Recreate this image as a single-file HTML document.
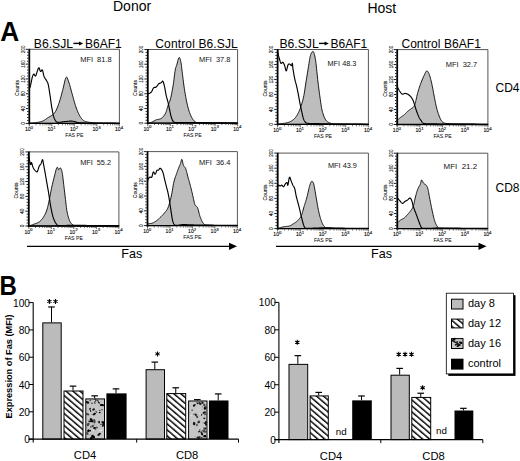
<!DOCTYPE html><html><head><meta charset="utf-8"><style>html,body{margin:0;padding:0;background:#fff;}svg{display:block;font-family:"Liberation Sans", sans-serif;}</style></head><body><svg width="520" height="461" viewBox="0 0 520 461" font-family='"Liberation Sans", sans-serif'>
<rect width="520" height="461" fill="#fff"/>
<text x="113.00" y="11.20" font-size="14" text-anchor="start" font-weight="normal" fill="#000" >Donor</text>
<text x="367.40" y="13.10" font-size="14" text-anchor="start" font-weight="normal" fill="#000" >Host</text>
<text transform="translate(0.3,41.0) scale(0.93,1)" font-size="28.3" font-weight="bold">A</text>
<text transform="translate(-0.6,295.2) scale(0.85,1)" font-size="28.3" font-weight="bold">B</text>
<text x="33.80" y="47.90" font-size="12.2">B6.SJL</text>
<path d="M73.40,43.40H79.90" stroke="#000" stroke-width="1.4"/>
<path d="M79.00,41.40L83.20,43.40L79.00,45.40Z" fill="#000"/>
<text x="85.00" y="47.90" font-size="12">B6AF1</text>
<text x="155.3" y="47.9" font-size="12" textLength="82.5" lengthAdjust="spacing">Control B6.SJL</text>
<text x="279.40" y="47.90" font-size="12.2">B6.SJL</text>
<path d="M319.00,43.40H325.50" stroke="#000" stroke-width="1.4"/>
<path d="M324.60,41.40L328.80,43.40L324.60,45.40Z" fill="#000"/>
<text x="330.60" y="47.90" font-size="12">B6AF1</text>
<text x="401.4" y="47.9" font-size="12" textLength="79.5" lengthAdjust="spacing">Control B6AF1</text>
<text x="495.50" y="92.00" font-size="12" text-anchor="start" font-weight="normal" fill="#000" >CD4</text>
<text x="495.50" y="192.00" font-size="12" text-anchor="start" font-weight="normal" fill="#000" >CD8</text>
<polygon points="29.30,123.40 29.30,123.21 29.42,123.20 29.55,123.19 29.70,123.18 29.89,123.17 30.13,123.15 30.44,123.12 30.83,123.08 31.33,123.03 31.96,122.97 32.72,122.90 33.58,122.82 34.51,122.74 35.46,122.65 36.40,122.54 37.28,122.42 38.08,122.29 38.81,122.15 39.50,122.01 40.15,121.87 40.79,121.71 41.41,121.53 42.02,121.32 42.64,121.09 43.27,120.81 43.90,120.47 44.54,120.09 45.17,119.66 45.80,119.21 46.42,118.75 47.03,118.30 47.64,117.87 48.22,117.47 48.79,117.12 49.36,116.81 49.91,116.51 50.46,116.22 50.99,115.93 51.51,115.61 52.01,115.27 52.50,114.88 52.97,114.47 53.41,114.07 53.83,113.65 54.25,113.21 54.65,112.72 55.06,112.17 55.46,111.54 55.88,110.80 56.30,109.97 56.72,109.06 57.15,108.08 57.57,107.03 57.99,105.92 58.41,104.75 58.84,103.54 59.26,102.28 59.68,100.97 60.10,99.58 60.53,98.13 60.95,96.63 61.37,95.10 61.79,93.55 62.21,91.98 62.64,90.43 63.06,88.74 63.50,86.85 63.93,84.88 64.37,82.92 64.80,81.09 65.22,79.50 65.63,78.25 66.02,77.46 66.38,77.13 66.72,77.17 67.05,77.52 67.37,78.13 67.69,78.93 68.01,79.86 68.35,80.87 68.72,81.90 69.11,83.03 69.52,84.35 69.94,85.81 70.37,87.37 70.80,88.99 71.24,90.62 71.67,92.23 72.10,93.76 72.52,95.26 72.94,96.80 73.36,98.35 73.79,99.90 74.21,101.41 74.63,102.89 75.05,104.29 75.48,105.62 75.90,106.86 76.32,108.06 76.74,109.20 77.17,110.29 77.59,111.33 78.01,112.32 78.43,113.25 78.86,114.14 79.28,114.97 79.70,115.74 80.12,116.46 80.54,117.12 80.97,117.74 81.39,118.31 81.81,118.84 82.23,119.32 82.63,119.75 83.00,120.11 83.35,120.42 83.71,120.69 84.10,120.93 84.53,121.14 85.03,121.34 85.61,121.55 86.28,121.74 87.01,121.92 87.80,122.07 88.64,122.21 89.52,122.33 90.44,122.45 91.39,122.55 92.37,122.66 93.33,122.76 94.25,122.85 95.19,122.92 96.17,122.99 97.24,123.06 98.44,123.11 99.81,123.17 101.38,123.21 103.32,123.26 105.67,123.29 108.27,123.32 110.95,123.34 113.57,123.36 115.95,123.38 117.95,123.39 119.40,123.40 119.40,123.40" fill="#bdbdbd" stroke="#000" stroke-width="0.9" stroke-linejoin="round"/>
<polyline points="29.30,88.20 29.38,88.07 29.49,87.95 29.61,87.81 29.75,87.62 29.90,87.37 30.07,87.03 30.25,86.57 30.43,85.98 30.62,85.18 30.83,84.17 31.06,83.02 31.30,81.79 31.54,80.55 31.78,79.37 32.01,78.32 32.23,77.46 32.43,76.76 32.63,76.14 32.83,75.60 33.02,75.14 33.21,74.77 33.40,74.47 33.60,74.26 33.80,74.12 34.02,74.15 34.24,74.39 34.46,74.75 34.69,75.17 34.92,75.57 35.15,75.89 35.38,76.05 35.61,75.98 35.83,75.65 36.06,75.12 36.29,74.45 36.52,73.68 36.75,72.88 36.97,72.09 37.19,71.38 37.41,70.79 37.62,70.27 37.82,69.74 38.02,69.22 38.21,68.75 38.40,68.35 38.60,68.04 38.79,67.86 38.99,67.83 39.18,68.00 39.37,68.40 39.57,68.95 39.76,69.58 39.95,70.23 40.15,70.81 40.35,71.27 40.56,71.53 40.78,71.54 41.00,71.33 41.22,71.00 41.45,70.60 41.68,70.23 41.91,69.97 42.14,69.88 42.36,70.05 42.59,70.51 42.80,71.20 43.01,72.07 43.22,73.04 43.44,74.05 43.67,75.04 43.91,75.95 44.17,76.72 44.45,77.35 44.76,77.93 45.09,78.45 45.42,78.94 45.75,79.41 46.07,79.86 46.37,80.32 46.64,80.79 46.88,81.23 47.10,81.58 47.29,81.90 47.47,82.23 47.65,82.61 47.83,83.08 48.02,83.70 48.22,84.50 48.44,85.50 48.66,86.68 48.89,87.99 49.12,89.41 49.35,90.88 49.58,92.36 49.81,93.83 50.02,95.24 50.23,96.63 50.43,98.04 50.62,99.46 50.81,100.89 51.00,102.31 51.20,103.70 51.39,105.05 51.60,106.36 51.81,107.64 52.03,108.92 52.26,110.18 52.49,111.41 52.72,112.58 52.95,113.69 53.17,114.70 53.40,115.62 53.62,116.42 53.84,117.12 54.05,117.74 54.26,118.28 54.48,118.77 54.71,119.22 54.95,119.65 55.20,120.07 55.45,120.47 55.65,120.85 55.86,121.19 56.08,121.50 56.34,121.77 56.68,121.99 57.12,122.17 57.68,122.29 58.40,122.34 59.25,122.30 60.21,122.21 61.24,122.08 62.31,121.93 63.37,121.78 64.39,121.64 65.34,121.55 66.23,121.47 67.09,121.39 67.94,121.30 68.78,121.22 69.60,121.16 70.43,121.13 71.26,121.13 72.10,121.18 72.93,121.28 73.73,121.44 74.53,121.65 75.34,121.87 76.16,122.10 77.01,122.32 77.90,122.51 78.86,122.66 79.87,122.76 80.95,122.84 82.07,122.90 83.22,122.94 84.39,122.97 85.56,122.99 86.72,123.01 87.87,123.03 88.90,123.05 89.80,123.05 90.65,123.05 91.53,123.04 92.51,123.03 93.67,123.03 95.10,123.02 96.88,123.03 99.20,123.05 102.08,123.07 105.32,123.09 108.70,123.12 112.01,123.15 115.04,123.18 117.57,123.20 119.40,123.21" fill="none" stroke="#000" stroke-width="1.15" stroke-linejoin="round"/>
<path d="M29.30,49.30 H119.40 V123.40" fill="none" stroke="#555" stroke-width="1"/>
<line x1="29.30" y1="48.80" x2="29.30" y2="124.40" stroke="#000" stroke-width="1.8"/>
<line x1="28.30" y1="123.40" x2="119.90" y2="123.40" stroke="#000" stroke-width="1.3"/>
<path d="M25.90,123.40h2.50M27.10,120.44h1.30M27.10,117.47h1.30M27.10,114.51h1.30M27.10,111.54h1.30M25.90,108.58h2.50M27.10,105.62h1.30M27.10,102.65h1.30M27.10,99.69h1.30M27.10,96.72h1.30M25.90,93.76h2.50M27.10,90.80h1.30M27.10,87.83h1.30M27.10,84.87h1.30M27.10,81.90h1.30M25.90,78.94h2.50M27.10,75.98h1.30M27.10,73.01h1.30M27.10,70.05h1.30M27.10,67.08h1.30M25.90,64.12h2.50M27.10,61.16h1.30M27.10,58.19h1.30M27.10,55.23h1.30M27.10,52.26h1.30M25.90,49.30h2.50" stroke="#000" stroke-width="0.9" fill="none"/>
<path d="M29.30,124.20v2.20M36.08,124.20v1.10M40.05,124.20v1.10M42.86,124.20v1.10M45.04,124.20v1.10M46.83,124.20v1.10M48.34,124.20v1.10M49.64,124.20v1.10M50.79,124.20v1.10M51.83,124.20v2.20M58.61,124.20v1.10M62.57,124.20v1.10M65.39,124.20v1.10M67.57,124.20v1.10M69.35,124.20v1.10M70.86,124.20v1.10M72.17,124.20v1.10M73.32,124.20v1.10M74.35,124.20v2.20M81.13,124.20v1.10M85.10,124.20v1.10M87.91,124.20v1.10M90.09,124.20v1.10M91.88,124.20v1.10M93.39,124.20v1.10M94.69,124.20v1.10M95.84,124.20v1.10M96.88,124.20v2.20M103.66,124.20v1.10M107.62,124.20v1.10M110.44,124.20v1.10M112.62,124.20v1.10M114.40,124.20v1.10M115.91,124.20v1.10M117.22,124.20v1.10M118.37,124.20v1.10M119.40,124.20v2.2" stroke="#000" stroke-width="0.6" fill="none"/>
<text transform="translate(24.70,123.40) rotate(-90)" font-size="5.8" text-anchor="middle" fill="#000" stroke="#000" stroke-width="0.1" textLength="2.7" lengthAdjust="spacingAndGlyphs">0</text>
<text transform="translate(24.70,108.58) rotate(-90)" font-size="5.8" text-anchor="middle" fill="#000" stroke="#000" stroke-width="0.1" textLength="5.1" lengthAdjust="spacingAndGlyphs">40</text>
<text transform="translate(24.70,93.76) rotate(-90)" font-size="5.8" text-anchor="middle" fill="#000" stroke="#000" stroke-width="0.1" textLength="5.1" lengthAdjust="spacingAndGlyphs">80</text>
<text transform="translate(24.70,78.94) rotate(-90)" font-size="5.8" text-anchor="middle" fill="#000" stroke="#000" stroke-width="0.1" textLength="7.5" lengthAdjust="spacingAndGlyphs">120</text>
<text transform="translate(24.70,64.12) rotate(-90)" font-size="5.8" text-anchor="middle" fill="#000" stroke="#000" stroke-width="0.1" textLength="7.5" lengthAdjust="spacingAndGlyphs">160</text>
<text transform="translate(24.70,49.30) rotate(-90)" font-size="5.8" text-anchor="middle" fill="#000" stroke="#000" stroke-width="0.1" textLength="7.5" lengthAdjust="spacingAndGlyphs">200</text>
<text transform="translate(18.70,87.95) rotate(-90)" font-size="5.4" text-anchor="middle" fill="#000" stroke="#000" stroke-width="0.1" textLength="16" lengthAdjust="spacingAndGlyphs">Counts</text>
<text x="29.00" y="131.00" font-size="5.1" text-anchor="middle" fill="#000" stroke="#000" stroke-width="0.1">10<tspan font-size="4.4" dy="-2.5">0</tspan></text>
<text x="51.53" y="131.00" font-size="5.1" text-anchor="middle" fill="#000" stroke="#000" stroke-width="0.1">10<tspan font-size="4.4" dy="-2.5">1</tspan></text>
<text x="74.05" y="131.00" font-size="5.1" text-anchor="middle" fill="#000" stroke="#000" stroke-width="0.1">10<tspan font-size="4.4" dy="-2.5">2</tspan></text>
<text x="96.58" y="131.00" font-size="5.1" text-anchor="middle" fill="#000" stroke="#000" stroke-width="0.1">10<tspan font-size="4.4" dy="-2.5">3</tspan></text>
<text x="119.10" y="131.00" font-size="5.1" text-anchor="middle" fill="#000" stroke="#000" stroke-width="0.1">10<tspan font-size="4.4" dy="-2.5">4</tspan></text>
<text x="74.35" y="137.20" font-size="5.2" text-anchor="middle" fill="#000">FAS PE</text>
<text x="80.20" y="61.60" font-size="6.8" fill="#111" textLength="31.40" lengthAdjust="spacingAndGlyphs">MFI&#160;&#160;81.8</text>
<polygon points="147.80,123.20 147.80,123.02 148.05,122.99 148.37,122.96 148.75,122.94 149.18,122.90 149.64,122.84 150.14,122.76 150.65,122.63 151.17,122.46 151.71,122.23 152.29,121.93 152.89,121.60 153.52,121.23 154.17,120.86 154.82,120.50 155.47,120.17 156.11,119.88 156.75,119.67 157.40,119.52 158.07,119.41 158.73,119.31 159.39,119.18 160.04,119.01 160.67,118.76 161.27,118.41 161.86,117.96 162.44,117.44 163.01,116.86 163.57,116.22 164.11,115.54 164.62,114.81 165.09,114.04 165.54,113.25 165.93,112.40 166.28,111.47 166.59,110.49 166.88,109.47 167.16,108.45 167.43,107.43 167.71,106.44 168.00,105.51 168.31,104.68 168.62,103.94 168.92,103.25 169.23,102.56 169.53,101.83 169.84,101.00 170.16,100.04 170.47,98.88 170.81,97.52 171.15,96.00 171.50,94.34 171.85,92.59 172.20,90.77 172.54,88.92 172.86,87.07 173.17,85.24 173.46,83.36 173.73,81.34 174.00,79.25 174.25,77.16 174.49,75.14 174.73,73.25 174.96,71.56 175.19,70.14 175.40,69.03 175.60,68.20 175.78,67.57 175.96,67.07 176.14,66.64 176.33,66.19 176.53,65.66 176.76,64.98 177.01,64.08 177.28,63.02 177.57,61.87 177.87,60.72 178.17,59.63 178.46,58.70 178.74,58.00 179.01,57.61 179.25,57.51 179.49,57.64 179.72,57.95 179.95,58.44 180.16,59.07 180.38,59.84 180.59,60.71 180.80,61.66 181.00,62.73 181.19,63.94 181.38,65.29 181.56,66.75 181.74,68.31 181.94,69.96 182.15,71.68 182.37,73.45 182.62,75.34 182.87,77.37 183.14,79.51 183.41,81.72 183.70,83.96 183.99,86.17 184.30,88.34 184.62,90.40 184.95,92.41 185.29,94.42 185.64,96.41 186.01,98.37 186.38,100.28 186.76,102.11 187.15,103.87 187.54,105.51 187.93,107.06 188.33,108.53 188.73,109.93 189.14,111.25 189.56,112.50 189.99,113.67 190.44,114.78 190.90,115.83 191.38,116.81 191.85,117.73 192.33,118.58 192.83,119.35 193.35,120.06 193.91,120.69 194.51,121.25 195.17,121.73 195.70,122.10 196.00,122.36 196.24,122.52 196.57,122.62 197.15,122.68 198.13,122.72 199.66,122.76 201.90,122.83 205.22,122.92 209.63,122.98 214.74,123.04 220.17,123.08 225.56,123.12 230.51,123.15 234.65,123.18 237.60,123.20 237.60,123.20" fill="#bdbdbd" stroke="#000" stroke-width="0.9" stroke-linejoin="round"/>
<polyline points="147.80,93.72 147.84,93.73 147.87,93.75 147.91,93.78 147.97,93.81 148.04,93.83 148.15,93.82 148.29,93.79 148.47,93.72 148.72,93.63 149.01,93.52 149.35,93.40 149.71,93.26 150.08,93.08 150.46,92.86 150.83,92.58 151.17,92.25 151.49,91.81 151.80,91.26 152.11,90.64 152.42,89.99 152.72,89.34 153.02,88.74 153.33,88.22 153.64,87.82 153.94,87.57 154.25,87.44 154.55,87.39 154.86,87.39 155.16,87.39 155.47,87.37 155.79,87.28 156.11,87.09 156.43,86.78 156.77,86.39 157.11,85.94 157.45,85.45 157.80,84.97 158.14,84.50 158.47,84.10 158.80,83.77 159.13,83.53 159.45,83.35 159.78,83.21 160.11,83.10 160.42,83.01 160.72,82.92 161.01,82.81 161.27,82.66 161.51,82.45 161.72,82.15 161.92,81.82 162.10,81.49 162.28,81.22 162.45,81.05 162.64,81.03 162.84,81.19 163.06,81.56 163.28,82.09 163.51,82.75 163.74,83.52 163.97,84.36 164.20,85.26 164.42,86.18 164.64,87.09 164.84,88.04 165.04,89.07 165.23,90.16 165.42,91.28 165.61,92.41 165.81,93.51 166.00,94.57 166.21,95.56 166.42,96.47 166.64,97.31 166.87,98.10 167.09,98.88 167.32,99.65 167.55,100.45 167.78,101.29 168.00,102.20 168.23,103.18 168.46,104.23 168.69,105.32 168.92,106.43 169.14,107.55 169.37,108.64 169.59,109.69 169.80,110.67 170.00,111.60 170.18,112.50 170.36,113.37 170.53,114.22 170.71,115.03 170.91,115.82 171.12,116.58 171.37,117.30 171.62,118.02 171.86,118.73 172.09,119.43 172.35,120.09 172.66,120.70 173.04,121.25 173.50,121.72 174.07,122.09 174.74,122.35 175.50,122.51 176.33,122.57 177.24,122.58 178.21,122.55 179.24,122.50 180.33,122.46 181.48,122.46 182.62,122.48 183.75,122.48 184.91,122.47 186.15,122.46 187.50,122.45 189.02,122.45 190.73,122.45 192.70,122.46 194.97,122.49 197.52,122.53 200.30,122.58 203.22,122.64 206.24,122.69 209.27,122.74 212.27,122.79 215.15,122.83 218.11,122.86 221.29,122.89 224.56,122.92 227.78,122.95 230.83,122.97 233.57,122.99 235.87,123.00 237.60,123.02" fill="none" stroke="#000" stroke-width="1.15" stroke-linejoin="round"/>
<path d="M147.80,49.50 H237.60 V123.20" fill="none" stroke="#555" stroke-width="1"/>
<line x1="147.80" y1="49.00" x2="147.80" y2="124.20" stroke="#000" stroke-width="1.8"/>
<line x1="146.80" y1="123.20" x2="238.10" y2="123.20" stroke="#000" stroke-width="1.3"/>
<path d="M144.40,123.20h2.50M145.60,120.25h1.30M145.60,117.30h1.30M145.60,114.36h1.30M145.60,111.41h1.30M144.40,108.46h2.50M145.60,105.51h1.30M145.60,102.56h1.30M145.60,99.62h1.30M145.60,96.67h1.30M144.40,93.72h2.50M145.60,90.77h1.30M145.60,87.82h1.30M145.60,84.88h1.30M145.60,81.93h1.30M144.40,78.98h2.50M145.60,76.03h1.30M145.60,73.08h1.30M145.60,70.14h1.30M145.60,67.19h1.30M144.40,64.24h2.50M145.60,61.29h1.30M145.60,58.34h1.30M145.60,55.40h1.30M145.60,52.45h1.30M144.40,49.50h2.50" stroke="#000" stroke-width="0.9" fill="none"/>
<path d="M147.80,124.00v2.20M154.56,124.00v1.10M158.51,124.00v1.10M161.32,124.00v1.10M163.49,124.00v1.10M165.27,124.00v1.10M166.77,124.00v1.10M168.07,124.00v1.10M169.22,124.00v1.10M170.25,124.00v2.20M177.01,124.00v1.10M180.96,124.00v1.10M183.77,124.00v1.10M185.94,124.00v1.10M187.72,124.00v1.10M189.22,124.00v1.10M190.52,124.00v1.10M191.67,124.00v1.10M192.70,124.00v2.20M199.46,124.00v1.10M203.41,124.00v1.10M206.22,124.00v1.10M208.39,124.00v1.10M210.17,124.00v1.10M211.67,124.00v1.10M212.97,124.00v1.10M214.12,124.00v1.10M215.15,124.00v2.20M221.91,124.00v1.10M225.86,124.00v1.10M228.67,124.00v1.10M230.84,124.00v1.10M232.62,124.00v1.10M234.12,124.00v1.10M235.42,124.00v1.10M236.57,124.00v1.10M237.60,124.00v2.2" stroke="#000" stroke-width="0.6" fill="none"/>
<text transform="translate(143.20,123.20) rotate(-90)" font-size="5.8" text-anchor="middle" fill="#000" stroke="#000" stroke-width="0.1" textLength="2.7" lengthAdjust="spacingAndGlyphs">0</text>
<text transform="translate(143.20,108.46) rotate(-90)" font-size="5.8" text-anchor="middle" fill="#000" stroke="#000" stroke-width="0.1" textLength="5.1" lengthAdjust="spacingAndGlyphs">40</text>
<text transform="translate(143.20,93.72) rotate(-90)" font-size="5.8" text-anchor="middle" fill="#000" stroke="#000" stroke-width="0.1" textLength="5.1" lengthAdjust="spacingAndGlyphs">80</text>
<text transform="translate(143.20,78.98) rotate(-90)" font-size="5.8" text-anchor="middle" fill="#000" stroke="#000" stroke-width="0.1" textLength="7.5" lengthAdjust="spacingAndGlyphs">120</text>
<text transform="translate(143.20,64.24) rotate(-90)" font-size="5.8" text-anchor="middle" fill="#000" stroke="#000" stroke-width="0.1" textLength="7.5" lengthAdjust="spacingAndGlyphs">160</text>
<text transform="translate(143.20,49.50) rotate(-90)" font-size="5.8" text-anchor="middle" fill="#000" stroke="#000" stroke-width="0.1" textLength="7.5" lengthAdjust="spacingAndGlyphs">200</text>
<text transform="translate(137.20,87.95) rotate(-90)" font-size="5.4" text-anchor="middle" fill="#000" stroke="#000" stroke-width="0.1" textLength="16" lengthAdjust="spacingAndGlyphs">Counts</text>
<text x="147.50" y="130.80" font-size="5.1" text-anchor="middle" fill="#000" stroke="#000" stroke-width="0.1">10<tspan font-size="4.4" dy="-2.5">0</tspan></text>
<text x="169.95" y="130.80" font-size="5.1" text-anchor="middle" fill="#000" stroke="#000" stroke-width="0.1">10<tspan font-size="4.4" dy="-2.5">1</tspan></text>
<text x="192.40" y="130.80" font-size="5.1" text-anchor="middle" fill="#000" stroke="#000" stroke-width="0.1">10<tspan font-size="4.4" dy="-2.5">2</tspan></text>
<text x="214.85" y="130.80" font-size="5.1" text-anchor="middle" fill="#000" stroke="#000" stroke-width="0.1">10<tspan font-size="4.4" dy="-2.5">3</tspan></text>
<text x="237.30" y="130.80" font-size="5.1" text-anchor="middle" fill="#000" stroke="#000" stroke-width="0.1">10<tspan font-size="4.4" dy="-2.5">4</tspan></text>
<text x="192.70" y="137.00" font-size="5.2" text-anchor="middle" fill="#000">FAS PE</text>
<text x="199.00" y="62.10" font-size="6.8" fill="#111" textLength="31.40" lengthAdjust="spacingAndGlyphs">MFI&#160;&#160;37.8</text>
<polygon points="277.60,124.40 277.60,124.03 277.84,124.00 278.13,123.98 278.47,123.95 278.86,123.91 279.31,123.86 279.82,123.81 280.38,123.74 281.00,123.65 281.72,123.56 282.56,123.46 283.47,123.35 284.42,123.23 285.39,123.09 286.34,122.93 287.24,122.74 288.04,122.53 288.77,122.28 289.47,122.00 290.13,121.70 290.77,121.38 291.37,121.04 291.95,120.68 292.50,120.30 293.04,119.91 293.54,119.51 294.00,119.12 294.43,118.72 294.84,118.29 295.23,117.83 295.63,117.33 296.03,116.78 296.44,116.16 296.87,115.50 297.29,114.81 297.71,114.08 298.13,113.31 298.55,112.46 298.98,111.54 299.41,110.53 299.85,109.42 300.30,108.20 300.76,106.87 301.24,105.46 301.72,103.97 302.19,102.41 302.64,100.79 303.08,99.13 303.48,97.44 303.84,95.68 304.18,93.83 304.50,91.92 304.80,89.97 305.09,87.99 305.38,86.00 305.67,84.02 305.98,82.08 306.29,80.13 306.62,78.13 306.94,76.11 307.27,74.10 307.59,72.13 307.90,70.22 308.19,68.41 308.47,66.73 308.73,65.14 308.97,63.62 309.19,62.17 309.41,60.81 309.62,59.52 309.83,58.33 310.05,57.23 310.29,56.24 310.54,55.35 310.79,54.56 311.06,53.87 311.32,53.27 311.59,52.76 311.85,52.34 312.10,52.00 312.33,51.75 312.55,51.57 312.75,51.46 312.95,51.43 313.14,51.49 313.33,51.65 313.52,51.93 313.71,52.33 313.92,52.87 314.13,53.51 314.35,54.22 314.56,55.03 314.79,55.96 315.01,57.05 315.24,58.31 315.49,59.78 315.74,61.48 316.00,63.51 316.27,65.87 316.55,68.48 316.84,71.24 317.13,74.08 317.43,76.89 317.72,79.59 318.01,82.08 318.29,84.43 318.58,86.75 318.87,89.02 319.16,91.23 319.44,93.38 319.72,95.45 320.00,97.43 320.28,99.31 320.53,101.08 320.77,102.75 321.00,104.33 321.23,105.84 321.46,107.28 321.72,108.66 322.00,109.99 322.32,111.29 322.67,112.57 323.04,113.81 323.43,115.00 323.84,116.14 324.27,117.21 324.73,118.20 325.21,119.10 325.72,119.91 326.25,120.60 326.79,121.18 327.34,121.67 327.92,122.08 328.54,122.43 329.21,122.74 329.93,123.02 330.72,123.28 331.44,123.50 332.04,123.66 332.61,123.77 333.27,123.84 334.12,123.89 335.27,123.93 336.83,123.97 338.89,124.03 341.76,124.09 345.46,124.15 349.69,124.21 354.16,124.26 358.56,124.30 362.60,124.34 365.98,124.37 368.40,124.40 368.40,124.40" fill="#bdbdbd" stroke="#000" stroke-width="0.9" stroke-linejoin="round"/>
<polyline points="277.60,49.50 277.63,49.81 277.66,50.21 277.70,50.69 277.74,51.23 277.80,51.81 277.87,52.41 277.95,53.02 278.05,53.62 278.18,54.23 278.33,54.87 278.49,55.54 278.66,56.22 278.85,56.90 279.04,57.58 279.23,58.24 279.42,58.86 279.60,59.50 279.79,60.17 279.99,60.85 280.18,61.51 280.38,62.12 280.59,62.65 280.79,63.07 281.00,63.36 281.22,63.45 281.44,63.37 281.67,63.15 281.90,62.86 282.13,62.57 282.36,62.33 282.59,62.20 282.82,62.23 283.05,62.43 283.28,62.72 283.51,63.09 283.74,63.52 283.97,64.00 284.20,64.52 284.42,65.06 284.64,65.60 284.84,66.25 285.04,67.05 285.24,67.93 285.43,68.81 285.62,69.62 285.82,70.28 286.02,70.72 286.23,70.85 286.44,70.60 286.67,70.02 286.90,69.19 287.13,68.22 287.37,67.21 287.60,66.25 287.82,65.43 288.04,64.85 288.25,64.49 288.45,64.25 288.64,64.09 288.84,64.01 289.03,63.99 289.22,64.01 289.42,64.06 289.63,64.11 289.85,64.21 290.09,64.41 290.34,64.67 290.58,64.95 290.82,65.22 291.05,65.44 291.26,65.58 291.45,65.60 291.61,65.45 291.74,65.11 291.86,64.67 291.97,64.20 292.07,63.76 292.17,63.43 292.26,63.27 292.36,63.36 292.44,63.68 292.51,64.18 292.58,64.82 292.64,65.58 292.71,66.44 292.79,67.37 292.90,68.35 293.04,69.35 293.21,70.44 293.42,71.68 293.64,73.02 293.89,74.40 294.14,75.79 294.39,77.13 294.63,78.37 294.85,79.46 295.06,80.39 295.26,81.19 295.45,81.89 295.65,82.55 295.84,83.19 296.03,83.87 296.23,84.61 296.44,85.45 296.66,86.40 296.88,87.42 297.12,88.49 297.35,89.59 297.58,90.72 297.81,91.85 298.04,92.97 298.26,94.07 298.46,95.14 298.66,96.22 298.86,97.30 299.05,98.37 299.24,99.45 299.44,100.53 299.64,101.60 299.85,102.68 300.06,103.77 300.29,104.88 300.52,105.99 300.75,107.10 300.99,108.20 301.22,109.27 301.44,110.31 301.66,111.29 301.87,112.25 302.07,113.18 302.26,114.09 302.46,114.97 302.65,115.81 302.84,116.60 303.04,117.35 303.25,118.03 303.46,118.66 303.67,119.23 303.89,119.76 304.10,120.23 304.33,120.67 304.56,121.07 304.81,121.44 305.07,121.78 305.29,122.08 305.45,122.34 305.58,122.55 305.75,122.74 305.98,122.90 306.33,123.03 306.85,123.16 307.56,123.28 308.49,123.38 309.58,123.45 310.82,123.50 312.17,123.53 313.64,123.56 315.19,123.58 316.80,123.61 318.46,123.65 320.08,123.70 321.66,123.75 323.25,123.80 324.96,123.85 326.84,123.90 328.98,123.95 331.46,123.99 334.35,124.03 337.97,124.06 342.38,124.09 347.29,124.12 352.37,124.14 357.33,124.16 361.86,124.18 365.65,124.20 368.40,124.21" fill="none" stroke="#000" stroke-width="1.15" stroke-linejoin="round"/>
<path d="M277.60,49.50 H368.40 V124.40" fill="none" stroke="#555" stroke-width="1"/>
<line x1="277.60" y1="49.00" x2="277.60" y2="125.40" stroke="#000" stroke-width="1.8"/>
<line x1="276.60" y1="124.40" x2="368.90" y2="124.40" stroke="#000" stroke-width="1.3"/>
<path d="M274.20,124.40h2.50M275.40,121.40h1.30M275.40,118.41h1.30M275.40,115.41h1.30M275.40,112.42h1.30M274.20,109.42h2.50M275.40,106.42h1.30M275.40,103.43h1.30M275.40,100.43h1.30M275.40,97.44h1.30M274.20,94.44h2.50M275.40,91.44h1.30M275.40,88.45h1.30M275.40,85.45h1.30M275.40,82.46h1.30M274.20,79.46h2.50M275.40,76.46h1.30M275.40,73.47h1.30M275.40,70.47h1.30M275.40,67.48h1.30M274.20,64.48h2.50M275.40,61.48h1.30M275.40,58.49h1.30M275.40,55.49h1.30M275.40,52.50h1.30M274.20,49.50h2.50" stroke="#000" stroke-width="0.9" fill="none"/>
<path d="M277.60,125.20v2.20M284.43,125.20v1.10M288.43,125.20v1.10M291.27,125.20v1.10M293.47,125.20v1.10M295.26,125.20v1.10M296.78,125.20v1.10M298.10,125.20v1.10M299.26,125.20v1.10M300.30,125.20v2.20M307.13,125.20v1.10M311.13,125.20v1.10M313.97,125.20v1.10M316.17,125.20v1.10M317.96,125.20v1.10M319.48,125.20v1.10M320.80,125.20v1.10M321.96,125.20v1.10M323.00,125.20v2.20M329.83,125.20v1.10M333.83,125.20v1.10M336.67,125.20v1.10M338.87,125.20v1.10M340.66,125.20v1.10M342.18,125.20v1.10M343.50,125.20v1.10M344.66,125.20v1.10M345.70,125.20v2.20M352.53,125.20v1.10M356.53,125.20v1.10M359.37,125.20v1.10M361.57,125.20v1.10M363.36,125.20v1.10M364.88,125.20v1.10M366.20,125.20v1.10M367.36,125.20v1.10M368.40,125.20v2.2" stroke="#000" stroke-width="0.6" fill="none"/>
<text transform="translate(273.00,124.40) rotate(-90)" font-size="5.8" text-anchor="middle" fill="#000" stroke="#000" stroke-width="0.1" textLength="2.7" lengthAdjust="spacingAndGlyphs">0</text>
<text transform="translate(273.00,109.42) rotate(-90)" font-size="5.8" text-anchor="middle" fill="#000" stroke="#000" stroke-width="0.1" textLength="5.1" lengthAdjust="spacingAndGlyphs">40</text>
<text transform="translate(273.00,94.44) rotate(-90)" font-size="5.8" text-anchor="middle" fill="#000" stroke="#000" stroke-width="0.1" textLength="5.1" lengthAdjust="spacingAndGlyphs">80</text>
<text transform="translate(273.00,79.46) rotate(-90)" font-size="5.8" text-anchor="middle" fill="#000" stroke="#000" stroke-width="0.1" textLength="7.5" lengthAdjust="spacingAndGlyphs">120</text>
<text transform="translate(273.00,64.48) rotate(-90)" font-size="5.8" text-anchor="middle" fill="#000" stroke="#000" stroke-width="0.1" textLength="7.5" lengthAdjust="spacingAndGlyphs">160</text>
<text transform="translate(273.00,49.50) rotate(-90)" font-size="5.8" text-anchor="middle" fill="#000" stroke="#000" stroke-width="0.1" textLength="7.5" lengthAdjust="spacingAndGlyphs">200</text>
<text transform="translate(267.00,88.55) rotate(-90)" font-size="5.4" text-anchor="middle" fill="#000" stroke="#000" stroke-width="0.1" textLength="16" lengthAdjust="spacingAndGlyphs">Counts</text>
<text x="277.30" y="132.00" font-size="5.1" text-anchor="middle" fill="#000" stroke="#000" stroke-width="0.1">10<tspan font-size="4.4" dy="-2.5">0</tspan></text>
<text x="300.00" y="132.00" font-size="5.1" text-anchor="middle" fill="#000" stroke="#000" stroke-width="0.1">10<tspan font-size="4.4" dy="-2.5">1</tspan></text>
<text x="322.70" y="132.00" font-size="5.1" text-anchor="middle" fill="#000" stroke="#000" stroke-width="0.1">10<tspan font-size="4.4" dy="-2.5">2</tspan></text>
<text x="345.40" y="132.00" font-size="5.1" text-anchor="middle" fill="#000" stroke="#000" stroke-width="0.1">10<tspan font-size="4.4" dy="-2.5">3</tspan></text>
<text x="368.10" y="132.00" font-size="5.1" text-anchor="middle" fill="#000" stroke="#000" stroke-width="0.1">10<tspan font-size="4.4" dy="-2.5">4</tspan></text>
<text x="323.00" y="138.20" font-size="5.2" text-anchor="middle" fill="#000">FAS PE</text>
<text x="327.50" y="65.80" font-size="6.8" fill="#111" textLength="28.90" lengthAdjust="spacingAndGlyphs">MFI&#160;48.3</text>
<polygon points="397.20,124.50 397.20,120.75 397.22,120.71 397.22,120.66 397.23,120.61 397.24,120.54 397.28,120.46 397.35,120.34 397.47,120.19 397.65,120.01 397.90,119.77 398.20,119.48 398.55,119.16 398.93,118.81 399.34,118.45 399.76,118.08 400.18,117.72 400.60,117.38 401.02,117.06 401.47,116.75 401.92,116.43 402.39,116.12 402.86,115.80 403.32,115.47 403.78,115.13 404.23,114.76 404.67,114.37 405.10,113.96 405.52,113.52 405.94,113.08 406.36,112.63 406.79,112.20 407.21,111.78 407.63,111.39 408.06,111.02 408.50,110.67 408.95,110.32 409.39,109.99 409.82,109.67 410.25,109.36 410.65,109.06 411.03,108.77 411.39,108.52 411.74,108.30 412.06,108.11 412.38,107.93 412.68,107.73 412.97,107.51 413.25,107.23 413.53,106.90 413.78,106.53 414.01,106.18 414.23,105.80 414.43,105.38 414.64,104.89 414.85,104.31 415.09,103.61 415.34,102.78 415.61,101.77 415.89,100.60 416.19,99.30 416.49,97.91 416.80,96.48 417.13,95.04 417.47,93.63 417.83,92.29 418.22,91.00 418.62,89.69 419.04,88.38 419.48,87.07 419.92,85.79 420.36,84.54 420.80,83.34 421.24,82.18 421.67,81.06 422.12,79.95 422.57,78.87 423.02,77.83 423.46,76.84 423.88,75.91 424.28,75.07 424.64,74.32 424.96,73.64 425.24,73.02 425.49,72.46 425.73,71.98 425.96,71.57 426.18,71.26 426.42,71.05 426.68,70.95 426.95,70.95 427.22,71.04 427.50,71.23 427.78,71.51 428.07,71.88 428.36,72.35 428.65,72.91 428.94,73.57 429.24,74.32 429.55,75.18 429.85,76.13 430.16,77.17 430.48,78.30 430.79,79.52 431.12,80.81 431.44,82.18 431.77,83.68 432.11,85.32 432.45,87.08 432.80,88.90 433.15,90.75 433.49,92.58 433.83,94.36 434.16,96.04 434.48,97.64 434.78,99.21 435.07,100.75 435.36,102.26 435.66,103.75 435.97,105.20 436.30,106.63 436.65,108.02 437.04,109.41 437.44,110.81 437.86,112.20 438.30,113.55 438.74,114.84 439.18,116.04 439.62,117.15 440.06,118.13 440.46,118.99 440.83,119.73 441.18,120.38 441.54,120.94 441.93,121.44 442.37,121.87 442.87,122.27 443.46,122.63 444.09,122.93 444.73,123.16 445.40,123.33 446.14,123.45 446.96,123.53 447.91,123.60 449.00,123.67 450.26,123.75 451.69,123.83 453.25,123.90 454.93,123.95 456.75,123.99 458.69,124.02 460.75,124.05 462.93,124.08 465.22,124.13 467.85,124.17 470.88,124.23 474.16,124.28 477.50,124.34 480.72,124.39 483.64,124.43 486.10,124.47 487.90,124.50 487.90,124.50" fill="#bdbdbd" stroke="#000" stroke-width="0.9" stroke-linejoin="round"/>
<polyline points="397.20,86.30 397.20,86.33 397.20,86.35 397.20,86.36 397.20,86.39 397.20,86.46 397.21,86.58 397.29,86.77 397.43,87.05 397.63,87.45 397.89,87.95 398.20,88.54 398.53,89.18 398.89,89.83 399.24,90.46 399.59,91.05 399.92,91.54 400.23,91.98 400.54,92.41 400.86,92.81 401.17,93.18 401.48,93.51 401.79,93.79 402.10,94.01 402.42,94.17 402.73,94.22 403.03,94.18 403.34,94.07 403.65,93.91 403.96,93.74 404.27,93.58 404.59,93.46 404.91,93.42 405.24,93.43 405.58,93.47 405.92,93.54 406.27,93.63 406.62,93.74 406.96,93.86 407.30,94.01 407.63,94.17 407.95,94.34 408.27,94.52 408.58,94.72 408.89,94.94 409.20,95.18 409.51,95.44 409.81,95.72 410.12,96.04 410.44,96.38 410.76,96.74 411.09,97.13 411.41,97.54 411.73,97.97 412.04,98.43 412.34,98.91 412.62,99.41 412.88,99.94 413.13,100.51 413.36,101.11 413.58,101.73 413.80,102.36 414.01,103.00 414.22,103.64 414.43,104.28 414.63,104.90 414.82,105.52 415.00,106.13 415.17,106.76 415.35,107.40 415.55,108.07 415.77,108.77 416.02,109.52 416.31,110.34 416.63,111.24 416.97,112.18 417.32,113.15 417.69,114.10 418.05,115.02 418.40,115.88 418.74,116.64 419.06,117.30 419.38,117.91 419.69,118.47 420.00,118.98 420.31,119.45 420.62,119.90 420.93,120.33 421.24,120.75 421.51,121.17 421.74,121.57 421.95,121.95 422.17,122.30 422.43,122.62 422.76,122.91 423.18,123.17 423.73,123.38 424.37,123.53 425.05,123.63 425.80,123.68 426.63,123.70 427.57,123.71 428.63,123.71 429.84,123.72 431.21,123.75 432.78,123.80 434.54,123.85 436.45,123.91 438.48,123.96 440.60,124.01 442.76,124.06 444.94,124.10 447.08,124.13 449.21,124.14 451.35,124.15 453.52,124.14 455.73,124.14 457.99,124.13 460.32,124.12 462.72,124.12 465.22,124.13 468.00,124.14 471.11,124.16 474.39,124.19 477.70,124.22 480.86,124.25 483.72,124.27 486.12,124.30 487.90,124.31" fill="none" stroke="#000" stroke-width="1.15" stroke-linejoin="round"/>
<path d="M397.20,49.60 H487.90 V124.50" fill="none" stroke="#555" stroke-width="1"/>
<line x1="397.20" y1="49.10" x2="397.20" y2="125.50" stroke="#000" stroke-width="1.8"/>
<line x1="396.20" y1="124.50" x2="488.40" y2="124.50" stroke="#000" stroke-width="1.3"/>
<path d="M393.80,124.50h2.50M395.00,121.50h1.30M395.00,118.51h1.30M395.00,115.51h1.30M395.00,112.52h1.30M393.80,109.52h2.50M395.00,106.52h1.30M395.00,103.53h1.30M395.00,100.53h1.30M395.00,97.54h1.30M393.80,94.54h2.50M395.00,91.54h1.30M395.00,88.55h1.30M395.00,85.55h1.30M395.00,82.56h1.30M393.80,79.56h2.50M395.00,76.56h1.30M395.00,73.57h1.30M395.00,70.57h1.30M395.00,67.58h1.30M393.80,64.58h2.50M395.00,61.58h1.30M395.00,58.59h1.30M395.00,55.59h1.30M395.00,52.60h1.30M393.80,49.60h2.50" stroke="#000" stroke-width="0.9" fill="none"/>
<path d="M397.20,125.30v2.20M404.03,125.30v1.10M408.02,125.30v1.10M410.85,125.30v1.10M413.05,125.30v1.10M414.84,125.30v1.10M416.36,125.30v1.10M417.68,125.30v1.10M418.84,125.30v1.10M419.88,125.30v2.20M426.70,125.30v1.10M430.69,125.30v1.10M433.53,125.30v1.10M435.72,125.30v1.10M437.52,125.30v1.10M439.04,125.30v1.10M440.35,125.30v1.10M441.51,125.30v1.10M442.55,125.30v2.20M449.38,125.30v1.10M453.37,125.30v1.10M456.20,125.30v1.10M458.40,125.30v1.10M460.19,125.30v1.10M461.71,125.30v1.10M463.03,125.30v1.10M464.19,125.30v1.10M465.22,125.30v2.20M472.05,125.30v1.10M476.04,125.30v1.10M478.88,125.30v1.10M481.07,125.30v1.10M482.87,125.30v1.10M484.39,125.30v1.10M485.70,125.30v1.10M486.86,125.30v1.10M487.90,125.30v2.2" stroke="#000" stroke-width="0.6" fill="none"/>
<text transform="translate(392.60,124.50) rotate(-90)" font-size="5.8" text-anchor="middle" fill="#000" stroke="#000" stroke-width="0.1" textLength="2.7" lengthAdjust="spacingAndGlyphs">0</text>
<text transform="translate(392.60,109.52) rotate(-90)" font-size="5.8" text-anchor="middle" fill="#000" stroke="#000" stroke-width="0.1" textLength="5.1" lengthAdjust="spacingAndGlyphs">40</text>
<text transform="translate(392.60,94.54) rotate(-90)" font-size="5.8" text-anchor="middle" fill="#000" stroke="#000" stroke-width="0.1" textLength="5.1" lengthAdjust="spacingAndGlyphs">80</text>
<text transform="translate(392.60,79.56) rotate(-90)" font-size="5.8" text-anchor="middle" fill="#000" stroke="#000" stroke-width="0.1" textLength="7.5" lengthAdjust="spacingAndGlyphs">120</text>
<text transform="translate(392.60,64.58) rotate(-90)" font-size="5.8" text-anchor="middle" fill="#000" stroke="#000" stroke-width="0.1" textLength="7.5" lengthAdjust="spacingAndGlyphs">160</text>
<text transform="translate(392.60,49.60) rotate(-90)" font-size="5.8" text-anchor="middle" fill="#000" stroke="#000" stroke-width="0.1" textLength="7.5" lengthAdjust="spacingAndGlyphs">200</text>
<text transform="translate(386.60,88.65) rotate(-90)" font-size="5.4" text-anchor="middle" fill="#000" stroke="#000" stroke-width="0.1" textLength="16" lengthAdjust="spacingAndGlyphs">Counts</text>
<text x="396.90" y="132.10" font-size="5.1" text-anchor="middle" fill="#000" stroke="#000" stroke-width="0.1">10<tspan font-size="4.4" dy="-2.5">0</tspan></text>
<text x="419.57" y="132.10" font-size="5.1" text-anchor="middle" fill="#000" stroke="#000" stroke-width="0.1">10<tspan font-size="4.4" dy="-2.5">1</tspan></text>
<text x="442.25" y="132.10" font-size="5.1" text-anchor="middle" fill="#000" stroke="#000" stroke-width="0.1">10<tspan font-size="4.4" dy="-2.5">2</tspan></text>
<text x="464.92" y="132.10" font-size="5.1" text-anchor="middle" fill="#000" stroke="#000" stroke-width="0.1">10<tspan font-size="4.4" dy="-2.5">3</tspan></text>
<text x="487.60" y="132.10" font-size="5.1" text-anchor="middle" fill="#000" stroke="#000" stroke-width="0.1">10<tspan font-size="4.4" dy="-2.5">4</tspan></text>
<text x="442.55" y="138.30" font-size="5.2" text-anchor="middle" fill="#000">FAS PE</text>
<text x="445.80" y="66.60" font-size="6.8" fill="#111" textLength="31.40" lengthAdjust="spacingAndGlyphs">MFI&#160;&#160;32.7</text>
<polygon points="28.80,226.00 28.80,225.81 28.87,225.81 28.93,225.81 29.01,225.82 29.11,225.81 29.24,225.80 29.41,225.77 29.64,225.72 29.93,225.63 30.29,225.51 30.71,225.37 31.18,225.20 31.70,225.02 32.25,224.81 32.82,224.60 33.40,224.38 33.98,224.15 34.58,223.92 35.22,223.70 35.88,223.48 36.56,223.24 37.24,222.98 37.90,222.68 38.55,222.33 39.16,221.92 39.75,221.46 40.32,220.95 40.87,220.41 41.41,219.82 41.94,219.19 42.46,218.53 42.96,217.83 43.44,217.11 43.91,216.36 44.37,215.58 44.81,214.78 45.24,213.94 45.66,213.05 46.06,212.11 46.45,211.12 46.82,210.07 47.17,208.95 47.50,207.76 47.82,206.52 48.12,205.23 48.41,203.89 48.70,202.52 48.99,201.12 49.30,199.69 49.61,198.22 49.91,196.67 50.22,195.07 50.52,193.44 50.83,191.81 51.14,190.19 51.46,188.62 51.78,187.10 52.10,185.62 52.44,184.15 52.78,182.71 53.13,181.29 53.47,179.90 53.81,178.54 54.15,177.24 54.48,175.98 54.80,174.72 55.13,173.42 55.45,172.12 55.77,170.89 56.09,169.76 56.39,168.78 56.68,167.99 56.96,167.46 57.22,167.25 57.46,167.36 57.69,167.69 57.91,168.16 58.13,168.68 58.34,169.16 58.55,169.53 58.76,169.68 58.96,169.60 59.16,169.36 59.36,169.01 59.55,168.62 59.74,168.24 59.93,167.95 60.13,167.79 60.34,167.83 60.55,168.03 60.77,168.32 61.00,168.70 61.24,169.17 61.47,169.76 61.70,170.47 61.92,171.31 62.14,172.28 62.34,173.41 62.54,174.72 62.73,176.16 62.93,177.72 63.12,179.36 63.31,181.06 63.51,182.78 63.71,184.50 63.93,186.28 64.15,188.16 64.38,190.11 64.61,192.10 64.85,194.08 65.08,196.04 65.30,197.92 65.52,199.69 65.72,201.38 65.90,203.03 66.07,204.63 66.25,206.18 66.43,207.68 66.62,209.14 66.84,210.55 67.09,211.92 67.37,213.26 67.67,214.58 67.99,215.86 68.33,217.08 68.68,218.25 69.05,219.33 69.42,220.31 69.80,221.18 70.17,221.93 70.55,222.57 70.93,223.10 71.33,223.56 71.75,223.95 72.19,224.29 72.66,224.60 73.17,224.89 73.49,225.14 73.51,225.33 73.43,225.47 73.44,225.57 73.74,225.64 74.53,225.70 76.00,225.75 78.36,225.81 82.01,225.87 86.95,225.92 92.75,225.95 98.95,225.97 105.11,225.98 110.79,225.98 115.53,225.99 118.90,226.00 118.90,226.00" fill="#bdbdbd" stroke="#000" stroke-width="0.9" stroke-linejoin="round"/>
<polyline points="28.80,151.90 28.83,152.42 28.86,153.12 28.90,153.94 28.94,154.86 29.00,155.83 29.06,156.80 29.15,157.73 29.25,158.57 29.38,159.40 29.54,160.29 29.71,161.19 29.90,162.07 30.09,162.88 30.27,163.58 30.45,164.13 30.60,164.50 30.73,164.59 30.84,164.42 30.93,164.06 31.02,163.62 31.12,163.17 31.22,162.80 31.35,162.59 31.50,162.64 31.68,162.97 31.87,163.49 32.08,164.16 32.31,164.91 32.54,165.71 32.79,166.50 33.04,167.22 33.30,167.83 33.59,168.36 33.90,168.86 34.22,169.35 34.56,169.80 34.89,170.21 35.21,170.58 35.51,170.90 35.78,171.17 36.02,171.39 36.24,171.60 36.43,171.77 36.61,171.88 36.79,171.93 36.97,171.90 37.16,171.78 37.36,171.54 37.57,171.14 37.79,170.57 38.02,169.88 38.25,169.13 38.48,168.35 38.71,167.59 38.93,166.91 39.16,166.35 39.39,165.91 39.62,165.55 39.85,165.25 40.08,164.98 40.30,164.72 40.53,164.45 40.75,164.13 40.96,163.76 41.18,163.26 41.39,162.65 41.60,161.98 41.81,161.30 42.01,160.68 42.20,160.16 42.38,159.81 42.54,159.68 42.68,159.77 42.80,160.02 42.90,160.42 42.99,160.93 43.08,161.54 43.18,162.23 43.30,162.98 43.44,163.76 43.60,164.60 43.78,165.53 43.97,166.54 44.17,167.62 44.38,168.75 44.59,169.91 44.81,171.09 45.02,172.28 45.23,173.49 45.45,174.74 45.68,176.03 45.90,177.35 46.13,178.68 46.36,180.01 46.59,181.34 46.82,182.65 47.05,183.95 47.28,185.25 47.51,186.54 47.74,187.84 47.96,189.14 48.19,190.43 48.41,191.73 48.62,193.03 48.83,194.33 49.03,195.66 49.23,197.00 49.42,198.33 49.62,199.64 49.81,200.94 50.00,202.19 50.20,203.40 50.39,204.57 50.59,205.70 50.78,206.81 50.97,207.89 51.17,208.94 51.37,209.96 51.57,210.96 51.78,211.92 51.98,212.85 52.19,213.75 52.40,214.62 52.61,215.46 52.83,216.28 53.06,217.07 53.31,217.84 53.58,218.59 53.87,219.33 54.17,220.07 54.50,220.79 54.83,221.48 55.18,222.14 55.54,222.75 55.90,223.30 56.28,223.78 56.60,224.18 56.82,224.53 57.02,224.81 57.25,225.05 57.57,225.24 58.04,225.40 58.71,225.53 59.66,225.63 60.86,225.68 62.25,225.68 63.82,225.62 65.56,225.54 67.44,225.44 69.46,225.35 71.60,225.29 73.85,225.26 76.27,225.27 78.90,225.31 81.69,225.36 84.59,225.42 87.56,225.49 90.55,225.55 93.50,225.60 96.38,225.63 99.34,225.65 102.53,225.66 105.81,225.66 109.05,225.65 112.10,225.65 114.85,225.64 117.16,225.63 118.90,225.63" fill="none" stroke="#000" stroke-width="1.15" stroke-linejoin="round"/>
<path d="M28.80,151.90 H118.90 V226.00" fill="none" stroke="#555" stroke-width="1"/>
<line x1="28.80" y1="151.40" x2="28.80" y2="227.00" stroke="#000" stroke-width="1.8"/>
<line x1="27.80" y1="226.00" x2="119.40" y2="226.00" stroke="#000" stroke-width="1.3"/>
<path d="M25.40,226.00h2.50M26.60,223.04h1.30M26.60,220.07h1.30M26.60,217.11h1.30M26.60,214.14h1.30M25.40,211.18h2.50M26.60,208.22h1.30M26.60,205.25h1.30M26.60,202.29h1.30M26.60,199.32h1.30M25.40,196.36h2.50M26.60,193.40h1.30M26.60,190.43h1.30M26.60,187.47h1.30M26.60,184.50h1.30M25.40,181.54h2.50M26.60,178.58h1.30M26.60,175.61h1.30M26.60,172.65h1.30M26.60,169.68h1.30M25.40,166.72h2.50M26.60,163.76h1.30M26.60,160.79h1.30M26.60,157.83h1.30M26.60,154.86h1.30M25.40,151.90h2.50" stroke="#000" stroke-width="0.9" fill="none"/>
<path d="M28.80,226.80v2.20M35.58,226.80v1.10M39.55,226.80v1.10M42.36,226.80v1.10M44.54,226.80v1.10M46.33,226.80v1.10M47.84,226.80v1.10M49.14,226.80v1.10M50.29,226.80v1.10M51.33,226.80v2.20M58.11,226.80v1.10M62.07,226.80v1.10M64.89,226.80v1.10M67.07,226.80v1.10M68.85,226.80v1.10M70.36,226.80v1.10M71.67,226.80v1.10M72.82,226.80v1.10M73.85,226.80v2.20M80.63,226.80v1.10M84.60,226.80v1.10M87.41,226.80v1.10M89.59,226.80v1.10M91.38,226.80v1.10M92.89,226.80v1.10M94.19,226.80v1.10M95.34,226.80v1.10M96.38,226.80v2.20M103.16,226.80v1.10M107.12,226.80v1.10M109.94,226.80v1.10M112.12,226.80v1.10M113.90,226.80v1.10M115.41,226.80v1.10M116.72,226.80v1.10M117.87,226.80v1.10M118.90,226.80v2.2" stroke="#000" stroke-width="0.6" fill="none"/>
<text transform="translate(24.20,226.00) rotate(-90)" font-size="5.8" text-anchor="middle" fill="#000" stroke="#000" stroke-width="0.1" textLength="2.7" lengthAdjust="spacingAndGlyphs">0</text>
<text transform="translate(24.20,211.18) rotate(-90)" font-size="5.8" text-anchor="middle" fill="#000" stroke="#000" stroke-width="0.1" textLength="5.1" lengthAdjust="spacingAndGlyphs">40</text>
<text transform="translate(24.20,196.36) rotate(-90)" font-size="5.8" text-anchor="middle" fill="#000" stroke="#000" stroke-width="0.1" textLength="5.1" lengthAdjust="spacingAndGlyphs">80</text>
<text transform="translate(24.20,181.54) rotate(-90)" font-size="5.8" text-anchor="middle" fill="#000" stroke="#000" stroke-width="0.1" textLength="7.5" lengthAdjust="spacingAndGlyphs">120</text>
<text transform="translate(24.20,166.72) rotate(-90)" font-size="5.8" text-anchor="middle" fill="#000" stroke="#000" stroke-width="0.1" textLength="7.5" lengthAdjust="spacingAndGlyphs">160</text>
<text transform="translate(24.20,151.90) rotate(-90)" font-size="5.8" text-anchor="middle" fill="#000" stroke="#000" stroke-width="0.1" textLength="7.5" lengthAdjust="spacingAndGlyphs">200</text>
<text transform="translate(18.20,190.55) rotate(-90)" font-size="5.4" text-anchor="middle" fill="#000" stroke="#000" stroke-width="0.1" textLength="16" lengthAdjust="spacingAndGlyphs">Counts</text>
<text x="28.50" y="233.60" font-size="5.1" text-anchor="middle" fill="#000" stroke="#000" stroke-width="0.1">10<tspan font-size="4.4" dy="-2.5">0</tspan></text>
<text x="51.03" y="233.60" font-size="5.1" text-anchor="middle" fill="#000" stroke="#000" stroke-width="0.1">10<tspan font-size="4.4" dy="-2.5">1</tspan></text>
<text x="73.55" y="233.60" font-size="5.1" text-anchor="middle" fill="#000" stroke="#000" stroke-width="0.1">10<tspan font-size="4.4" dy="-2.5">2</tspan></text>
<text x="96.08" y="233.60" font-size="5.1" text-anchor="middle" fill="#000" stroke="#000" stroke-width="0.1">10<tspan font-size="4.4" dy="-2.5">3</tspan></text>
<text x="118.60" y="233.60" font-size="5.1" text-anchor="middle" fill="#000" stroke="#000" stroke-width="0.1">10<tspan font-size="4.4" dy="-2.5">4</tspan></text>
<text x="73.85" y="239.80" font-size="5.2" text-anchor="middle" fill="#000">FAS PE</text>
<text x="80.20" y="164.50" font-size="6.8" fill="#111" textLength="30.80" lengthAdjust="spacingAndGlyphs">MFI&#160;&#160;55.2</text>
<polygon points="147.50,225.60 147.50,224.49 147.55,224.43 147.58,224.36 147.62,224.27 147.68,224.17 147.78,224.06 147.92,223.95 148.12,223.85 148.40,223.75 148.77,223.67 149.23,223.61 149.75,223.55 150.32,223.50 150.92,223.42 151.52,223.33 152.11,223.19 152.67,223.01 153.20,222.78 153.74,222.52 154.28,222.22 154.82,221.90 155.35,221.55 155.89,221.19 156.42,220.81 156.94,220.42 157.46,220.01 157.98,219.57 158.50,219.11 159.02,218.64 159.53,218.16 160.03,217.67 160.51,217.19 160.99,216.72 161.44,216.27 161.87,215.83 162.29,215.40 162.70,214.96 163.11,214.52 163.51,214.05 163.93,213.55 164.36,213.02 164.80,212.49 165.24,211.99 165.70,211.48 166.15,210.94 166.61,210.34 167.06,209.64 167.51,208.82 167.95,207.84 168.39,206.69 168.83,205.39 169.27,203.97 169.71,202.45 170.14,200.87 170.55,199.25 170.95,197.61 171.32,196.00 171.68,194.34 172.00,192.57 172.32,190.74 172.62,188.90 172.91,187.09 173.20,185.36 173.49,183.75 173.80,182.31 174.10,181.05 174.41,179.94 174.71,178.95 175.02,178.03 175.32,177.17 175.63,176.32 175.95,175.45 176.27,174.54 176.60,173.57 176.95,172.58 177.31,171.58 177.67,170.59 178.03,169.63 178.36,168.72 178.68,167.89 178.97,167.14 179.22,166.50 179.44,165.96 179.65,165.50 179.84,165.08 180.01,164.69 180.19,164.30 180.36,163.89 180.54,163.44 180.72,162.88 180.89,162.21 181.05,161.50 181.21,160.80 181.37,160.18 181.54,159.69 181.71,159.40 181.89,159.37 182.07,159.65 182.25,160.21 182.43,160.97 182.62,161.87 182.81,162.82 183.01,163.76 183.23,164.61 183.46,165.29 183.71,165.79 183.97,166.18 184.25,166.50 184.54,166.79 184.84,167.11 185.13,167.48 185.42,167.97 185.71,168.62 185.99,169.45 186.27,170.42 186.56,171.50 186.85,172.64 187.13,173.82 187.41,174.99 187.68,176.10 187.96,177.13 188.22,178.06 188.47,178.92 188.71,179.74 188.95,180.55 189.20,181.37 189.45,182.23 189.70,183.15 189.98,184.16 190.27,185.26 190.56,186.44 190.87,187.67 191.19,188.95 191.50,190.25 191.82,191.56 192.14,192.86 192.45,194.15 192.76,195.48 193.06,196.88 193.37,198.32 193.67,199.75 193.98,201.12 194.29,202.41 194.60,203.55 194.92,204.51 195.25,205.22 195.59,205.71 195.93,206.03 196.27,206.27 196.61,206.49 196.96,206.78 197.29,207.21 197.62,207.84 197.93,208.70 198.23,209.72 198.52,210.86 198.81,212.07 199.11,213.31 199.42,214.53 199.74,215.68 200.09,216.72 200.46,217.69 200.83,218.65 201.21,219.59 201.61,220.49 202.03,221.33 202.47,222.11 202.95,222.79 203.46,223.38 203.86,223.85 204.08,224.22 204.23,224.49 204.46,224.70 204.89,224.86 205.64,224.98 206.84,225.10 208.63,225.23 211.30,225.35 214.84,225.44 218.96,225.49 223.34,225.53 227.68,225.55 231.68,225.57 235.02,225.58 237.40,225.60 237.40,225.60" fill="#bdbdbd" stroke="#000" stroke-width="0.9" stroke-linejoin="round"/>
<polyline points="147.50,181.20 147.56,180.99 147.65,180.71 147.74,180.37 147.85,180.00 147.97,179.61 148.11,179.24 148.25,178.90 148.40,178.61 148.56,178.36 148.74,178.13 148.93,177.91 149.13,177.71 149.34,177.53 149.55,177.37 149.76,177.24 149.97,177.13 150.19,177.09 150.41,177.15 150.64,177.25 150.87,177.36 151.10,177.44 151.33,177.46 151.55,177.37 151.77,177.13 151.98,176.68 152.17,176.03 152.37,175.24 152.56,174.40 152.75,173.58 152.94,172.85 153.14,172.28 153.34,171.95 153.56,171.91 153.78,172.12 154.00,172.50 154.23,172.97 154.46,173.45 154.69,173.86 154.92,174.13 155.14,174.17 155.37,173.97 155.60,173.58 155.83,173.07 156.05,172.48 156.28,171.87 156.51,171.30 156.73,170.81 156.94,170.47 157.15,170.27 157.34,170.18 157.54,170.15 157.73,170.17 157.92,170.20 158.11,170.22 158.31,170.19 158.51,170.10 158.72,169.90 158.93,169.61 159.14,169.27 159.36,168.92 159.58,168.60 159.81,168.36 160.05,168.23 160.31,168.25 160.59,168.43 160.90,168.72 161.23,169.12 161.56,169.59 161.89,170.13 162.21,170.71 162.51,171.33 162.78,171.95 163.02,172.60 163.23,173.31 163.43,174.07 163.61,174.86 163.79,175.69 163.97,176.53 164.15,177.38 164.36,178.24 164.57,179.11 164.79,180.02 165.01,180.95 165.24,181.89 165.47,182.84 165.70,183.79 165.93,184.73 166.15,185.64 166.38,186.53 166.61,187.39 166.84,188.24 167.07,189.09 167.29,189.94 167.52,190.82 167.74,191.72 167.95,192.67 168.16,193.64 168.36,194.62 168.55,195.61 168.74,196.62 168.93,197.68 169.12,198.78 169.32,199.95 169.53,201.18 169.74,202.52 169.96,203.98 170.19,205.52 170.42,207.10 170.66,208.68 170.88,210.22 171.11,211.68 171.32,213.02 171.52,214.28 171.71,215.49 171.88,216.67 172.05,217.78 172.23,218.84 172.43,219.82 172.65,220.72 172.90,221.53 173.14,222.25 173.37,222.90 173.60,223.46 173.85,223.96 174.15,224.38 174.53,224.73 175.00,225.01 175.59,225.23 176.34,225.34 177.22,225.33 178.21,225.23 179.27,225.07 180.37,224.88 181.45,224.70 182.50,224.56 183.46,224.49 184.23,224.48 184.80,224.50 185.28,224.55 185.78,224.61 186.41,224.67 187.28,224.74 188.51,224.81 190.20,224.86 192.45,224.91 195.17,224.96 198.26,225.01 201.58,225.06 205.03,225.10 208.48,225.15 211.82,225.19 214.93,225.23 218.00,225.26 221.23,225.29 224.51,225.32 227.71,225.35 230.72,225.37 233.41,225.39 235.68,225.40 237.40,225.41" fill="none" stroke="#000" stroke-width="1.15" stroke-linejoin="round"/>
<path d="M147.50,151.60 H237.40 V225.60" fill="none" stroke="#555" stroke-width="1"/>
<line x1="147.50" y1="151.10" x2="147.50" y2="226.60" stroke="#000" stroke-width="1.8"/>
<line x1="146.50" y1="225.60" x2="237.90" y2="225.60" stroke="#000" stroke-width="1.3"/>
<path d="M144.10,225.60h2.50M145.30,222.64h1.30M145.30,219.68h1.30M145.30,216.72h1.30M145.30,213.76h1.30M144.10,210.80h2.50M145.30,207.84h1.30M145.30,204.88h1.30M145.30,201.92h1.30M145.30,198.96h1.30M144.10,196.00h2.50M145.30,193.04h1.30M145.30,190.08h1.30M145.30,187.12h1.30M145.30,184.16h1.30M144.10,181.20h2.50M145.30,178.24h1.30M145.30,175.28h1.30M145.30,172.32h1.30M145.30,169.36h1.30M144.10,166.40h2.50M145.30,163.44h1.30M145.30,160.48h1.30M145.30,157.52h1.30M145.30,154.56h1.30M144.10,151.60h2.50" stroke="#000" stroke-width="0.9" fill="none"/>
<path d="M147.50,226.40v2.20M154.27,226.40v1.10M158.22,226.40v1.10M161.03,226.40v1.10M163.21,226.40v1.10M164.99,226.40v1.10M166.49,226.40v1.10M167.80,226.40v1.10M168.95,226.40v1.10M169.97,226.40v2.20M176.74,226.40v1.10M180.70,226.40v1.10M183.51,226.40v1.10M185.68,226.40v1.10M187.46,226.40v1.10M188.97,226.40v1.10M190.27,226.40v1.10M191.42,226.40v1.10M192.45,226.40v2.20M199.22,226.40v1.10M203.17,226.40v1.10M205.98,226.40v1.10M208.16,226.40v1.10M209.94,226.40v1.10M211.44,226.40v1.10M212.75,226.40v1.10M213.90,226.40v1.10M214.93,226.40v2.20M221.69,226.40v1.10M225.65,226.40v1.10M228.46,226.40v1.10M230.63,226.40v1.10M232.41,226.40v1.10M233.92,226.40v1.10M235.22,226.40v1.10M236.37,226.40v1.10M237.40,226.40v2.2" stroke="#000" stroke-width="0.6" fill="none"/>
<text transform="translate(142.90,225.60) rotate(-90)" font-size="5.8" text-anchor="middle" fill="#000" stroke="#000" stroke-width="0.1" textLength="2.7" lengthAdjust="spacingAndGlyphs">0</text>
<text transform="translate(142.90,210.80) rotate(-90)" font-size="5.8" text-anchor="middle" fill="#000" stroke="#000" stroke-width="0.1" textLength="5.1" lengthAdjust="spacingAndGlyphs">40</text>
<text transform="translate(142.90,196.00) rotate(-90)" font-size="5.8" text-anchor="middle" fill="#000" stroke="#000" stroke-width="0.1" textLength="5.1" lengthAdjust="spacingAndGlyphs">80</text>
<text transform="translate(142.90,181.20) rotate(-90)" font-size="5.8" text-anchor="middle" fill="#000" stroke="#000" stroke-width="0.1" textLength="7.5" lengthAdjust="spacingAndGlyphs">120</text>
<text transform="translate(142.90,166.40) rotate(-90)" font-size="5.8" text-anchor="middle" fill="#000" stroke="#000" stroke-width="0.1" textLength="7.5" lengthAdjust="spacingAndGlyphs">160</text>
<text transform="translate(142.90,151.60) rotate(-90)" font-size="5.8" text-anchor="middle" fill="#000" stroke="#000" stroke-width="0.1" textLength="7.5" lengthAdjust="spacingAndGlyphs">200</text>
<text transform="translate(136.90,190.20) rotate(-90)" font-size="5.4" text-anchor="middle" fill="#000" stroke="#000" stroke-width="0.1" textLength="16" lengthAdjust="spacingAndGlyphs">Counts</text>
<text x="147.20" y="233.20" font-size="5.1" text-anchor="middle" fill="#000" stroke="#000" stroke-width="0.1">10<tspan font-size="4.4" dy="-2.5">0</tspan></text>
<text x="169.67" y="233.20" font-size="5.1" text-anchor="middle" fill="#000" stroke="#000" stroke-width="0.1">10<tspan font-size="4.4" dy="-2.5">1</tspan></text>
<text x="192.15" y="233.20" font-size="5.1" text-anchor="middle" fill="#000" stroke="#000" stroke-width="0.1">10<tspan font-size="4.4" dy="-2.5">2</tspan></text>
<text x="214.62" y="233.20" font-size="5.1" text-anchor="middle" fill="#000" stroke="#000" stroke-width="0.1">10<tspan font-size="4.4" dy="-2.5">3</tspan></text>
<text x="237.10" y="233.20" font-size="5.1" text-anchor="middle" fill="#000" stroke="#000" stroke-width="0.1">10<tspan font-size="4.4" dy="-2.5">4</tspan></text>
<text x="192.45" y="239.40" font-size="5.2" text-anchor="middle" fill="#000">FAS PE</text>
<text x="199.00" y="164.50" font-size="6.8" fill="#111" textLength="31.40" lengthAdjust="spacingAndGlyphs">MFI&#160;&#160;36.4</text>
<polygon points="277.70,228.60 277.70,228.22 277.80,228.20 277.91,228.17 278.03,228.14 278.18,228.10 278.37,228.06 278.61,228.00 278.92,227.93 279.29,227.84 279.75,227.74 280.29,227.61 280.90,227.46 281.55,227.30 282.24,227.14 282.93,226.99 283.62,226.84 284.28,226.71 284.93,226.61 285.61,226.52 286.29,226.45 286.98,226.38 287.66,226.31 288.31,226.22 288.92,226.10 289.49,225.96 290.00,225.78 290.47,225.57 290.90,225.35 291.31,225.11 291.70,224.86 292.08,224.59 292.48,224.33 292.89,224.07 293.32,223.81 293.76,223.54 294.20,223.26 294.64,222.98 295.07,222.70 295.49,222.41 295.90,222.11 296.29,221.81 296.67,221.50 297.03,221.20 297.37,220.89 297.71,220.58 298.04,220.25 298.37,219.91 298.69,219.55 299.01,219.16 299.34,218.78 299.65,218.41 299.97,218.05 300.28,217.65 300.58,217.21 300.89,216.70 301.20,216.10 301.51,215.39 301.82,214.54 302.13,213.56 302.43,212.49 302.74,211.35 303.05,210.18 303.36,208.99 303.68,207.82 304.00,206.70 304.33,205.63 304.67,204.58 305.02,203.53 305.36,202.48 305.71,201.42 306.05,200.33 306.39,199.20 306.72,198.02 307.05,196.75 307.38,195.38 307.72,193.95 308.04,192.50 308.36,191.08 308.66,189.74 308.95,188.52 309.22,187.45 309.46,186.54 309.68,185.74 309.89,185.03 310.08,184.41 310.27,183.86 310.45,183.37 310.62,182.94 310.81,182.54 310.98,182.20 311.16,181.91 311.32,181.68 311.49,181.51 311.65,181.39 311.82,181.34 311.99,181.35 312.17,181.41 312.35,181.50 312.53,181.58 312.71,181.70 312.90,181.88 313.10,182.18 313.30,182.62 313.52,183.23 313.75,184.06 314.00,185.13 314.27,186.44 314.54,187.94 314.83,189.58 315.12,191.30 315.42,193.06 315.72,194.82 316.02,196.51 316.32,198.21 316.62,199.99 316.93,201.81 317.24,203.64 317.55,205.45 317.87,207.22 318.19,208.90 318.51,210.48 318.84,211.96 319.16,213.39 319.49,214.76 319.82,216.07 320.16,217.32 320.50,218.50 320.86,219.62 321.24,220.67 321.61,221.66 321.98,222.58 322.35,223.44 322.74,224.24 323.15,224.96 323.60,225.62 324.09,226.20 324.64,226.71 325.04,227.13 325.19,227.44 325.26,227.66 325.43,227.82 325.87,227.94 326.75,228.03 328.25,228.12 330.53,228.22 334.00,228.33 338.64,228.41 344.06,228.46 349.83,228.51 355.57,228.54 360.85,228.56 365.26,228.58 368.40,228.60 368.40,228.60" fill="#bdbdbd" stroke="#000" stroke-width="0.9" stroke-linejoin="round"/>
<polyline points="277.70,187.07 277.74,186.91 277.80,186.67 277.86,186.39 277.93,186.08 278.01,185.78 278.11,185.52 278.24,185.31 278.38,185.19 278.55,185.17 278.76,185.23 278.99,185.34 279.23,185.49 279.48,185.65 279.73,185.80 279.97,185.90 280.19,185.94 280.40,185.90 280.60,185.81 280.80,185.67 280.99,185.52 281.18,185.37 281.37,185.25 281.57,185.18 281.78,185.19 282.00,185.30 282.22,185.50 282.46,185.77 282.69,186.06 282.92,186.34 283.15,186.56 283.38,186.69 283.60,186.70 283.80,186.56 284.00,186.30 284.20,185.96 284.39,185.56 284.58,185.15 284.78,184.73 284.98,184.36 285.18,184.06 285.40,183.78 285.64,183.50 285.89,183.22 286.13,182.97 286.37,182.76 286.60,182.60 286.81,182.53 287.00,182.54 287.15,182.75 287.27,183.16 287.37,183.70 287.46,184.27 287.55,184.79 287.65,185.17 287.76,185.33 287.90,185.19 288.07,184.62 288.25,183.67 288.44,182.46 288.64,181.13 288.85,179.81 289.06,178.64 289.28,177.75 289.49,177.26 289.71,177.20 289.93,177.46 290.16,177.95 290.40,178.60 290.63,179.35 290.86,180.12 291.09,180.83 291.31,181.41 291.51,181.91 291.71,182.39 291.91,182.87 292.10,183.35 292.29,183.82 292.48,184.28 292.68,184.74 292.89,185.19 293.11,185.60 293.34,185.96 293.57,186.29 293.80,186.63 294.03,187.00 294.26,187.43 294.49,187.95 294.71,188.58 294.91,189.34 295.09,190.20 295.27,191.13 295.44,192.12 295.63,193.17 295.82,194.27 296.04,195.38 296.29,196.51 296.58,197.68 296.90,198.89 297.24,200.15 297.60,201.44 297.96,202.76 298.32,204.08 298.68,205.40 299.01,206.70 299.34,208.02 299.65,209.37 299.97,210.72 300.28,212.08 300.58,213.43 300.89,214.76 301.20,216.04 301.51,217.28 301.82,218.49 302.13,219.73 302.43,220.95 302.74,222.14 303.05,223.25 303.36,224.28 303.68,225.19 304.00,225.96 304.24,226.57 304.35,227.04 304.41,227.39 304.50,227.66 304.70,227.85 305.08,227.99 305.73,228.11 306.72,228.22 308.07,228.30 309.70,228.30 311.57,228.24 313.64,228.15 315.86,228.05 318.20,227.95 320.61,227.87 323.05,227.84 325.58,227.86 328.27,227.89 331.09,227.94 333.99,228.00 336.94,228.06 339.91,228.12 342.85,228.18 345.72,228.22 348.71,228.26 351.93,228.29 355.22,228.32 358.48,228.34 361.56,228.36 364.33,228.38 366.65,228.40 368.40,228.41" fill="none" stroke="#000" stroke-width="1.15" stroke-linejoin="round"/>
<path d="M277.70,153.10 H368.40 V228.60" fill="none" stroke="#555" stroke-width="1"/>
<line x1="277.70" y1="152.60" x2="277.70" y2="229.60" stroke="#000" stroke-width="1.8"/>
<line x1="276.70" y1="228.60" x2="368.90" y2="228.60" stroke="#000" stroke-width="1.3"/>
<path d="M274.30,228.60h2.50M275.50,225.58h1.30M275.50,222.56h1.30M275.50,219.54h1.30M275.50,216.52h1.30M274.30,213.50h2.50M275.50,210.48h1.30M275.50,207.46h1.30M275.50,204.44h1.30M275.50,201.42h1.30M274.30,198.40h2.50M275.50,195.38h1.30M275.50,192.36h1.30M275.50,189.34h1.30M275.50,186.32h1.30M274.30,183.30h2.50M275.50,180.28h1.30M275.50,177.26h1.30M275.50,174.24h1.30M275.50,171.22h1.30M274.30,168.20h2.50M275.50,165.18h1.30M275.50,162.16h1.30M275.50,159.14h1.30M275.50,156.12h1.30M274.30,153.10h2.50" stroke="#000" stroke-width="0.9" fill="none"/>
<path d="M277.70,229.40v2.20M284.53,229.40v1.10M288.52,229.40v1.10M291.35,229.40v1.10M293.55,229.40v1.10M295.34,229.40v1.10M296.86,229.40v1.10M298.18,229.40v1.10M299.34,229.40v1.10M300.38,229.40v2.20M307.20,229.40v1.10M311.19,229.40v1.10M314.03,229.40v1.10M316.22,229.40v1.10M318.02,229.40v1.10M319.54,229.40v1.10M320.85,229.40v1.10M322.01,229.40v1.10M323.05,229.40v2.20M329.88,229.40v1.10M333.87,229.40v1.10M336.70,229.40v1.10M338.90,229.40v1.10M340.69,229.40v1.10M342.21,229.40v1.10M343.53,229.40v1.10M344.69,229.40v1.10M345.72,229.40v2.20M352.55,229.40v1.10M356.54,229.40v1.10M359.38,229.40v1.10M361.57,229.40v1.10M363.37,229.40v1.10M364.89,229.40v1.10M366.20,229.40v1.10M367.36,229.40v1.10M368.40,229.40v2.2" stroke="#000" stroke-width="0.6" fill="none"/>
<text transform="translate(273.10,228.60) rotate(-90)" font-size="5.8" text-anchor="middle" fill="#000" stroke="#000" stroke-width="0.1" textLength="2.7" lengthAdjust="spacingAndGlyphs">0</text>
<text transform="translate(273.10,213.50) rotate(-90)" font-size="5.8" text-anchor="middle" fill="#000" stroke="#000" stroke-width="0.1" textLength="5.1" lengthAdjust="spacingAndGlyphs">40</text>
<text transform="translate(273.10,198.40) rotate(-90)" font-size="5.8" text-anchor="middle" fill="#000" stroke="#000" stroke-width="0.1" textLength="5.1" lengthAdjust="spacingAndGlyphs">80</text>
<text transform="translate(273.10,183.30) rotate(-90)" font-size="5.8" text-anchor="middle" fill="#000" stroke="#000" stroke-width="0.1" textLength="7.5" lengthAdjust="spacingAndGlyphs">120</text>
<text transform="translate(273.10,168.20) rotate(-90)" font-size="5.8" text-anchor="middle" fill="#000" stroke="#000" stroke-width="0.1" textLength="7.5" lengthAdjust="spacingAndGlyphs">160</text>
<text transform="translate(273.10,153.10) rotate(-90)" font-size="5.8" text-anchor="middle" fill="#000" stroke="#000" stroke-width="0.1" textLength="7.5" lengthAdjust="spacingAndGlyphs">200</text>
<text transform="translate(267.10,192.45) rotate(-90)" font-size="5.4" text-anchor="middle" fill="#000" stroke="#000" stroke-width="0.1" textLength="16" lengthAdjust="spacingAndGlyphs">Counts</text>
<text x="277.40" y="236.20" font-size="5.1" text-anchor="middle" fill="#000" stroke="#000" stroke-width="0.1">10<tspan font-size="4.4" dy="-2.5">0</tspan></text>
<text x="300.07" y="236.20" font-size="5.1" text-anchor="middle" fill="#000" stroke="#000" stroke-width="0.1">10<tspan font-size="4.4" dy="-2.5">1</tspan></text>
<text x="322.75" y="236.20" font-size="5.1" text-anchor="middle" fill="#000" stroke="#000" stroke-width="0.1">10<tspan font-size="4.4" dy="-2.5">2</tspan></text>
<text x="345.42" y="236.20" font-size="5.1" text-anchor="middle" fill="#000" stroke="#000" stroke-width="0.1">10<tspan font-size="4.4" dy="-2.5">3</tspan></text>
<text x="368.10" y="236.20" font-size="5.1" text-anchor="middle" fill="#000" stroke="#000" stroke-width="0.1">10<tspan font-size="4.4" dy="-2.5">4</tspan></text>
<text x="323.05" y="242.40" font-size="5.2" text-anchor="middle" fill="#000">FAS PE</text>
<text x="328.00" y="167.80" font-size="6.8" fill="#111" textLength="28.90" lengthAdjust="spacingAndGlyphs">MFI&#160;43.9</text>
<polygon points="397.30,228.60 397.30,222.94 397.32,222.93 397.32,222.93 397.33,222.93 397.34,222.92 397.38,222.89 397.45,222.83 397.57,222.73 397.75,222.57 398.00,222.34 398.30,222.05 398.65,221.71 399.04,221.34 399.45,220.96 399.87,220.59 400.29,220.24 400.69,219.93 401.10,219.67 401.51,219.44 401.93,219.23 402.36,219.03 402.79,218.83 403.23,218.60 403.66,218.35 404.09,218.04 404.51,217.70 404.94,217.32 405.36,216.92 405.78,216.49 406.21,216.04 406.63,215.59 407.06,215.12 407.48,214.65 407.91,214.17 408.35,213.68 408.79,213.17 409.23,212.65 409.67,212.12 410.09,211.58 410.49,211.05 410.88,210.50 411.23,209.98 411.58,209.48 411.90,208.98 412.22,208.48 412.52,207.94 412.81,207.36 413.09,206.71 413.36,205.98 413.62,205.16 413.85,204.26 414.06,203.29 414.27,202.28 414.48,201.24 414.69,200.17 414.92,199.11 415.17,198.06 415.45,196.99 415.74,195.87 416.05,194.72 416.36,193.56 416.68,192.43 417.01,191.34 417.34,190.32 417.66,189.39 418.00,188.56 418.36,187.81 418.73,187.11 419.10,186.47 419.47,185.86 419.80,185.27 420.11,184.70 420.38,184.11 420.59,183.49 420.75,182.82 420.87,182.14 420.97,181.50 421.07,180.92 421.18,180.45 421.32,180.12 421.51,179.97 421.74,180.04 421.99,180.32 422.26,180.75 422.56,181.29 422.86,181.87 423.16,182.44 423.47,182.96 423.77,183.36 424.08,183.66 424.40,183.90 424.73,184.11 425.06,184.30 425.38,184.49 425.70,184.70 425.99,184.95 426.26,185.25 426.50,185.56 426.71,185.85 426.91,186.14 427.09,186.47 427.27,186.86 427.45,187.33 427.64,187.91 427.84,188.64 428.05,189.51 428.26,190.50 428.48,191.60 428.69,192.78 428.92,194.04 429.15,195.35 429.39,196.70 429.65,198.06 429.93,199.49 430.23,201.01 430.54,202.61 430.86,204.24 431.18,205.87 431.50,207.48 431.83,209.04 432.14,210.50 432.45,211.92 432.76,213.31 433.07,214.69 433.37,216.02 433.68,217.30 433.99,218.51 434.31,219.64 434.63,220.68 434.95,221.63 435.26,222.50 435.57,223.30 435.89,224.03 436.22,224.69 436.57,225.30 436.94,225.84 437.35,226.34 437.50,226.76 437.28,227.11 436.91,227.39 436.65,227.61 436.73,227.79 437.39,227.95 438.88,228.09 441.42,228.22 445.51,228.34 451.13,228.43 457.75,228.49 464.86,228.53 471.94,228.55 478.47,228.57 483.93,228.58 487.80,228.60 487.80,228.60" fill="#bdbdbd" stroke="#000" stroke-width="0.9" stroke-linejoin="round"/>
<polyline points="397.30,196.56 397.32,196.66 397.34,196.80 397.37,196.96 397.40,197.14 397.45,197.35 397.52,197.57 397.62,197.81 397.75,198.06 397.93,198.34 398.13,198.64 398.37,198.97 398.63,199.31 398.91,199.66 399.19,200.02 399.49,200.36 399.79,200.70 400.10,201.06 400.43,201.47 400.77,201.89 401.12,202.30 401.47,202.68 401.82,203.00 402.17,203.23 402.50,203.34 402.83,203.32 403.14,203.18 403.45,202.95 403.76,202.66 404.07,202.33 404.38,202.01 404.68,201.70 404.99,201.46 405.30,201.25 405.61,201.06 405.93,200.88 406.24,200.70 406.55,200.52 406.86,200.34 407.17,200.15 407.48,199.95 407.80,199.70 408.12,199.40 408.44,199.07 408.77,198.75 409.09,198.46 409.40,198.22 409.69,198.08 409.97,198.06 410.23,198.15 410.48,198.33 410.71,198.57 410.93,198.89 411.15,199.27 411.36,199.70 411.57,200.18 411.78,200.70 411.98,201.29 412.17,201.94 412.34,202.67 412.52,203.44 412.70,204.24 412.89,205.07 413.11,205.90 413.36,206.73 413.65,207.58 413.97,208.45 414.31,209.35 414.66,210.27 415.03,211.19 415.39,212.11 415.74,213.01 416.08,213.90 416.40,214.77 416.72,215.64 417.03,216.50 417.34,217.36 417.64,218.21 417.95,219.05 418.26,219.87 418.57,220.68 418.88,221.50 419.18,222.35 419.49,223.20 419.80,224.03 420.11,224.82 420.42,225.54 420.73,226.18 421.06,226.72 421.27,227.13 421.34,227.45 421.35,227.69 421.40,227.86 421.57,227.98 421.96,228.07 422.66,228.15 423.77,228.22 425.32,228.28 427.25,228.29 429.47,228.26 431.92,228.21 434.52,228.15 437.21,228.09 439.91,228.05 442.55,228.03 445.19,228.04 447.94,228.06 450.75,228.08 453.62,228.11 456.52,228.14 459.43,228.17 462.32,228.20 465.18,228.22 468.16,228.25 471.36,228.27 474.65,228.30 477.90,228.33 480.97,228.35 483.73,228.38 486.05,228.40 487.80,228.41" fill="none" stroke="#000" stroke-width="1.15" stroke-linejoin="round"/>
<path d="M397.30,153.20 H487.80 V228.60" fill="none" stroke="#555" stroke-width="1"/>
<line x1="397.30" y1="152.70" x2="397.30" y2="229.60" stroke="#000" stroke-width="1.8"/>
<line x1="396.30" y1="228.60" x2="488.30" y2="228.60" stroke="#000" stroke-width="1.3"/>
<path d="M393.90,228.60h2.50M395.10,225.58h1.30M395.10,222.57h1.30M395.10,219.55h1.30M395.10,216.54h1.30M393.90,213.52h2.50M395.10,210.50h1.30M395.10,207.49h1.30M395.10,204.47h1.30M395.10,201.46h1.30M393.90,198.44h2.50M395.10,195.42h1.30M395.10,192.41h1.30M395.10,189.39h1.30M395.10,186.38h1.30M393.90,183.36h2.50M395.10,180.34h1.30M395.10,177.33h1.30M395.10,174.31h1.30M395.10,171.30h1.30M393.90,168.28h2.50M395.10,165.26h1.30M395.10,162.25h1.30M395.10,159.23h1.30M395.10,156.22h1.30M393.90,153.20h2.50" stroke="#000" stroke-width="0.9" fill="none"/>
<path d="M397.30,229.40v2.20M404.11,229.40v1.10M408.09,229.40v1.10M410.92,229.40v1.10M413.11,229.40v1.10M414.91,229.40v1.10M416.42,229.40v1.10M417.73,229.40v1.10M418.89,229.40v1.10M419.93,229.40v2.20M426.74,229.40v1.10M430.72,229.40v1.10M433.55,229.40v1.10M435.74,229.40v1.10M437.53,229.40v1.10M439.05,229.40v1.10M440.36,229.40v1.10M441.51,229.40v1.10M442.55,229.40v2.20M449.36,229.40v1.10M453.34,229.40v1.10M456.17,229.40v1.10M458.36,229.40v1.10M460.16,229.40v1.10M461.67,229.40v1.10M462.98,229.40v1.10M464.14,229.40v1.10M465.18,229.40v2.20M471.99,229.40v1.10M475.97,229.40v1.10M478.80,229.40v1.10M480.99,229.40v1.10M482.78,229.40v1.10M484.30,229.40v1.10M485.61,229.40v1.10M486.76,229.40v1.10M487.80,229.40v2.2" stroke="#000" stroke-width="0.6" fill="none"/>
<text transform="translate(392.70,228.60) rotate(-90)" font-size="5.8" text-anchor="middle" fill="#000" stroke="#000" stroke-width="0.1" textLength="2.7" lengthAdjust="spacingAndGlyphs">0</text>
<text transform="translate(392.70,213.52) rotate(-90)" font-size="5.8" text-anchor="middle" fill="#000" stroke="#000" stroke-width="0.1" textLength="5.1" lengthAdjust="spacingAndGlyphs">40</text>
<text transform="translate(392.70,198.44) rotate(-90)" font-size="5.8" text-anchor="middle" fill="#000" stroke="#000" stroke-width="0.1" textLength="5.1" lengthAdjust="spacingAndGlyphs">80</text>
<text transform="translate(392.70,183.36) rotate(-90)" font-size="5.8" text-anchor="middle" fill="#000" stroke="#000" stroke-width="0.1" textLength="7.5" lengthAdjust="spacingAndGlyphs">120</text>
<text transform="translate(392.70,168.28) rotate(-90)" font-size="5.8" text-anchor="middle" fill="#000" stroke="#000" stroke-width="0.1" textLength="7.5" lengthAdjust="spacingAndGlyphs">160</text>
<text transform="translate(392.70,153.20) rotate(-90)" font-size="5.8" text-anchor="middle" fill="#000" stroke="#000" stroke-width="0.1" textLength="7.5" lengthAdjust="spacingAndGlyphs">200</text>
<text transform="translate(386.70,192.50) rotate(-90)" font-size="5.4" text-anchor="middle" fill="#000" stroke="#000" stroke-width="0.1" textLength="16" lengthAdjust="spacingAndGlyphs">Counts</text>
<text x="397.00" y="236.20" font-size="5.1" text-anchor="middle" fill="#000" stroke="#000" stroke-width="0.1">10<tspan font-size="4.4" dy="-2.5">0</tspan></text>
<text x="419.62" y="236.20" font-size="5.1" text-anchor="middle" fill="#000" stroke="#000" stroke-width="0.1">10<tspan font-size="4.4" dy="-2.5">1</tspan></text>
<text x="442.25" y="236.20" font-size="5.1" text-anchor="middle" fill="#000" stroke="#000" stroke-width="0.1">10<tspan font-size="4.4" dy="-2.5">2</tspan></text>
<text x="464.88" y="236.20" font-size="5.1" text-anchor="middle" fill="#000" stroke="#000" stroke-width="0.1">10<tspan font-size="4.4" dy="-2.5">3</tspan></text>
<text x="487.50" y="236.20" font-size="5.1" text-anchor="middle" fill="#000" stroke="#000" stroke-width="0.1">10<tspan font-size="4.4" dy="-2.5">4</tspan></text>
<text x="442.55" y="242.40" font-size="5.2" text-anchor="middle" fill="#000">FAS PE</text>
<text x="443.60" y="169.00" font-size="6.8" fill="#111" textLength="33.50" lengthAdjust="spacingAndGlyphs">MFI&#160;&#160;21.2</text>
<line x1="27.00" y1="246.30" x2="231.00" y2="246.30" stroke="#000" stroke-width="1.2"/>
<path d="M229.00,242.70L237.00,246.30L229.00,249.90Z" fill="#000"/>
<text x="121.30" y="258.30" font-size="12.6">Fas</text>
<line x1="276.00" y1="246.30" x2="480.50" y2="246.30" stroke="#000" stroke-width="1.2"/>
<path d="M478.50,242.70L486.50,246.30L478.50,249.90Z" fill="#000"/>
<text x="371.00" y="258.30" font-size="12.6">Fas</text>
<defs><pattern id="hatch" patternUnits="userSpaceOnUse" width="4.55" height="4.55" patternTransform="rotate(-49.4)"><rect width="4.55" height="4.55" fill="#fff"/><rect x="0" y="0" width="1.45" height="4.55" fill="#000"/></pattern></defs>
<line x1="51.50" y1="306.97" x2="51.50" y2="322.39" stroke="#000" stroke-width="1"/>
<line x1="48.20" y1="306.97" x2="54.80" y2="306.97" stroke="#000" stroke-width="1.2"/>
<rect x="42.80" y="322.89" width="18.40" height="116.21" fill="#bbbbbb" stroke="#000" stroke-width="1"/>
<line x1="73.00" y1="386.14" x2="73.00" y2="390.51" stroke="#000" stroke-width="1"/>
<line x1="69.70" y1="386.14" x2="76.30" y2="386.14" stroke="#000" stroke-width="1.2"/>
<rect x="64.00" y="391.01" width="19.00" height="48.09" fill="url(#hatch)" stroke="#000" stroke-width="1"/>
<line x1="94.65" y1="395.83" x2="94.65" y2="398.42" stroke="#000" stroke-width="1"/>
<line x1="91.35" y1="395.83" x2="97.95" y2="395.83" stroke="#000" stroke-width="1.2"/>
<rect x="85.80" y="398.92" width="18.70" height="40.18" fill="#c6c6c6"/>
<ellipse cx="94.35" cy="421.29" rx="2.30" ry="1.24" fill="#444" transform="rotate(81 94.35 421.29)"/><ellipse cx="89.97" cy="430.61" rx="1.15" ry="0.88" fill="#111" transform="rotate(17 89.97 430.61)"/><ellipse cx="88.31" cy="430.83" rx="1.47" ry="1.05" fill="#000" transform="rotate(107 88.31 430.83)"/><ellipse cx="94.37" cy="428.13" rx="1.08" ry="1.02" fill="#000" transform="rotate(150 94.37 428.13)"/><ellipse cx="87.40" cy="433.50" rx="1.56" ry="0.98" fill="#444" transform="rotate(59 87.40 433.50)"/><ellipse cx="90.06" cy="408.84" rx="1.07" ry="0.74" fill="#000" transform="rotate(119 90.06 408.84)"/><ellipse cx="91.45" cy="438.01" rx="1.71" ry="1.30" fill="#000" transform="rotate(127 91.45 438.01)"/><ellipse cx="90.64" cy="410.96" rx="1.03" ry="0.56" fill="#000" transform="rotate(72 90.64 410.96)"/><ellipse cx="93.25" cy="436.50" rx="2.27" ry="1.18" fill="#000" transform="rotate(38 93.25 436.50)"/><ellipse cx="87.67" cy="414.26" rx="1.74" ry="1.07" fill="#444" transform="rotate(13 87.67 414.26)"/><ellipse cx="99.80" cy="410.22" rx="0.80" ry="0.57" fill="#222" transform="rotate(3 99.80 410.22)"/><ellipse cx="102.21" cy="405.06" rx="1.91" ry="1.07" fill="#000" transform="rotate(11 102.21 405.06)"/><ellipse cx="89.77" cy="421.28" rx="1.52" ry="0.86" fill="#111" transform="rotate(177 89.77 421.28)"/><ellipse cx="93.80" cy="414.57" rx="1.52" ry="0.82" fill="#111" transform="rotate(0 93.80 414.57)"/><ellipse cx="103.08" cy="422.55" rx="1.81" ry="1.30" fill="#000" transform="rotate(38 103.08 422.55)"/><ellipse cx="101.07" cy="424.43" rx="0.73" ry="0.58" fill="#111" transform="rotate(38 101.07 424.43)"/><ellipse cx="99.70" cy="412.48" rx="0.89" ry="0.74" fill="#000" transform="rotate(13 99.70 412.48)"/><ellipse cx="97.43" cy="400.52" rx="1.26" ry="0.79" fill="#444" transform="rotate(23 97.43 400.52)"/><ellipse cx="100.70" cy="405.11" rx="0.99" ry="0.81" fill="#111" transform="rotate(56 100.70 405.11)"/><ellipse cx="96.99" cy="427.62" rx="0.87" ry="0.63" fill="#111" transform="rotate(124 96.99 427.62)"/><ellipse cx="94.86" cy="402.92" rx="1.06" ry="0.54" fill="#000" transform="rotate(7 94.86 402.92)"/><ellipse cx="90.78" cy="426.82" rx="0.83" ry="0.71" fill="#444" transform="rotate(53 90.78 426.82)"/><ellipse cx="98.83" cy="402.55" rx="1.31" ry="0.68" fill="#000" transform="rotate(50 98.83 402.55)"/><ellipse cx="90.21" cy="400.56" rx="0.75" ry="0.72" fill="#444" transform="rotate(45 90.21 400.56)"/><ellipse cx="91.51" cy="420.20" rx="2.42" ry="1.28" fill="#000" transform="rotate(65 91.51 420.20)"/><ellipse cx="103.17" cy="425.00" rx="2.03" ry="1.05" fill="#111" transform="rotate(106 103.17 425.00)"/><ellipse cx="94.73" cy="413.57" rx="1.23" ry="0.75" fill="#000" transform="rotate(4 94.73 413.57)"/><ellipse cx="94.85" cy="427.81" rx="1.17" ry="0.76" fill="#000" transform="rotate(14 94.85 427.81)"/><ellipse cx="99.11" cy="434.29" rx="2.09" ry="1.09" fill="#111" transform="rotate(143 99.11 434.29)"/><ellipse cx="92.68" cy="426.08" rx="1.26" ry="1.22" fill="#444" transform="rotate(170 92.68 426.08)"/><ellipse cx="95.15" cy="400.48" rx="1.66" ry="1.03" fill="#444" transform="rotate(105 95.15 400.48)"/><ellipse cx="88.14" cy="424.33" rx="1.80" ry="1.29" fill="#444" transform="rotate(131 88.14 424.33)"/><ellipse cx="99.08" cy="422.10" rx="1.29" ry="0.85" fill="#000" transform="rotate(93 99.08 422.10)"/><ellipse cx="91.98" cy="403.27" rx="0.84" ry="0.52" fill="#000" transform="rotate(90 91.98 403.27)"/><ellipse cx="102.17" cy="409.69" rx="0.82" ry="0.51" fill="#222" transform="rotate(26 102.17 409.69)"/><ellipse cx="95.46" cy="428.70" rx="0.96" ry="0.77" fill="#444" transform="rotate(90 95.46 428.70)"/><ellipse cx="93.56" cy="409.49" rx="1.39" ry="1.01" fill="#111" transform="rotate(158 93.56 409.49)"/><ellipse cx="96.54" cy="412.01" rx="1.15" ry="0.61" fill="#444" transform="rotate(63 96.54 412.01)"/><ellipse cx="87.48" cy="402.37" rx="1.89" ry="1.28" fill="#111" transform="rotate(20 87.48 402.37)"/><circle cx="102.43" cy="431.78" r="0.45" fill="#888"/><circle cx="95.05" cy="411.89" r="0.64" fill="#888"/><circle cx="94.34" cy="402.60" r="0.31" fill="#888"/><circle cx="87.31" cy="427.06" r="0.53" fill="#999"/><circle cx="97.70" cy="421.48" r="0.56" fill="#999"/><circle cx="94.38" cy="400.68" r="0.63" fill="#eee"/><circle cx="99.93" cy="430.46" r="0.69" fill="#eee"/><circle cx="94.23" cy="424.03" r="0.56" fill="#999"/><circle cx="102.99" cy="426.13" r="0.38" fill="#999"/><circle cx="90.98" cy="427.28" r="0.60" fill="#888"/><circle cx="98.81" cy="406.63" r="0.41" fill="#999"/><circle cx="95.83" cy="436.25" r="0.50" fill="#eee"/><circle cx="93.33" cy="430.27" r="0.66" fill="#eee"/><circle cx="93.62" cy="434.16" r="0.46" fill="#999"/><circle cx="94.36" cy="423.85" r="0.66" fill="#999"/><circle cx="96.01" cy="424.90" r="0.50" fill="#999"/><circle cx="94.53" cy="424.85" r="0.38" fill="#888"/><circle cx="101.41" cy="430.52" r="0.67" fill="#eee"/><circle cx="90.25" cy="434.44" r="0.69" fill="#999"/><circle cx="95.78" cy="430.23" r="0.43" fill="#888"/><circle cx="101.23" cy="413.17" r="0.33" fill="#999"/><circle cx="92.45" cy="415.98" r="0.41" fill="#eee"/><circle cx="90.33" cy="433.19" r="0.47" fill="#eee"/><circle cx="89.56" cy="412.65" r="0.62" fill="#eee"/><circle cx="94.65" cy="438.29" r="0.66" fill="#888"/><circle cx="100.96" cy="426.32" r="0.68" fill="#999"/><circle cx="96.50" cy="426.30" r="0.60" fill="#999"/><circle cx="95.61" cy="410.92" r="0.59" fill="#888"/><circle cx="89.41" cy="419.56" r="0.66" fill="#999"/><circle cx="91.93" cy="414.43" r="0.64" fill="#888"/>
<rect x="85.80" y="398.92" width="18.70" height="40.18" fill="none" stroke="#000" stroke-width="1"/>
<line x1="116.00" y1="388.87" x2="116.00" y2="393.37" stroke="#000" stroke-width="1"/>
<line x1="112.70" y1="388.87" x2="119.30" y2="388.87" stroke="#000" stroke-width="1.2"/>
<rect x="106.40" y="393.37" width="20.20" height="45.73" fill="#000"/>
<line x1="154.80" y1="362.11" x2="154.80" y2="369.21" stroke="#000" stroke-width="1"/>
<line x1="151.50" y1="362.11" x2="158.10" y2="362.11" stroke="#000" stroke-width="1.2"/>
<rect x="146.10" y="369.71" width="18.40" height="69.39" fill="#bbbbbb" stroke="#000" stroke-width="1"/>
<line x1="175.75" y1="387.78" x2="175.75" y2="393.10" stroke="#000" stroke-width="1"/>
<line x1="172.45" y1="387.78" x2="179.05" y2="387.78" stroke="#000" stroke-width="1.2"/>
<rect x="166.80" y="393.60" width="18.90" height="45.50" fill="url(#hatch)" stroke="#000" stroke-width="1"/>
<line x1="197.30" y1="399.65" x2="197.30" y2="400.47" stroke="#000" stroke-width="1"/>
<line x1="194.00" y1="399.65" x2="200.60" y2="399.65" stroke="#000" stroke-width="1.2"/>
<rect x="188.60" y="400.97" width="18.40" height="38.13" fill="#c6c6c6"/>
<ellipse cx="204.77" cy="436.24" rx="1.59" ry="1.21" fill="#000" transform="rotate(3 204.77 436.24)"/><ellipse cx="195.82" cy="414.91" rx="1.32" ry="1.08" fill="#222" transform="rotate(80 195.82 414.91)"/><ellipse cx="197.06" cy="402.87" rx="0.86" ry="0.57" fill="#444" transform="rotate(76 197.06 402.87)"/><ellipse cx="201.64" cy="414.94" rx="0.91" ry="0.55" fill="#000" transform="rotate(106 201.64 414.94)"/><ellipse cx="199.78" cy="437.04" rx="1.01" ry="0.79" fill="#222" transform="rotate(174 199.78 437.04)"/><ellipse cx="205.58" cy="422.67" rx="1.83" ry="1.15" fill="#111" transform="rotate(129 205.58 422.67)"/><ellipse cx="196.94" cy="425.18" rx="1.08" ry="0.65" fill="#111" transform="rotate(96 196.94 425.18)"/><ellipse cx="198.13" cy="423.01" rx="0.72" ry="0.57" fill="#444" transform="rotate(7 198.13 423.01)"/><ellipse cx="198.99" cy="431.62" rx="1.18" ry="0.76" fill="#222" transform="rotate(162 198.99 431.62)"/><ellipse cx="204.27" cy="418.40" rx="1.20" ry="0.67" fill="#111" transform="rotate(19 204.27 418.40)"/><ellipse cx="201.20" cy="431.91" rx="1.10" ry="0.69" fill="#111" transform="rotate(165 201.20 431.91)"/><ellipse cx="205.11" cy="408.01" rx="1.78" ry="1.28" fill="#000" transform="rotate(114 205.11 408.01)"/><ellipse cx="192.27" cy="410.12" rx="0.99" ry="0.51" fill="#111" transform="rotate(145 192.27 410.12)"/><ellipse cx="198.43" cy="437.67" rx="1.97" ry="1.10" fill="#222" transform="rotate(3 198.43 437.67)"/><ellipse cx="197.65" cy="403.31" rx="1.04" ry="0.71" fill="#111" transform="rotate(136 197.65 403.31)"/><ellipse cx="194.45" cy="405.28" rx="1.47" ry="0.95" fill="#111" transform="rotate(124 194.45 405.28)"/><ellipse cx="193.51" cy="405.58" rx="0.85" ry="0.63" fill="#000" transform="rotate(80 193.51 405.58)"/><ellipse cx="204.23" cy="431.37" rx="2.38" ry="1.22" fill="#444" transform="rotate(13 204.23 431.37)"/><ellipse cx="204.32" cy="428.91" rx="1.66" ry="0.94" fill="#444" transform="rotate(74 204.32 428.91)"/><ellipse cx="198.74" cy="421.84" rx="1.32" ry="1.16" fill="#000" transform="rotate(5 198.74 421.84)"/><ellipse cx="205.42" cy="428.30" rx="0.91" ry="0.84" fill="#111" transform="rotate(171 205.42 428.30)"/><ellipse cx="198.82" cy="421.55" rx="1.37" ry="0.69" fill="#444" transform="rotate(144 198.82 421.55)"/><ellipse cx="194.06" cy="414.19" rx="0.73" ry="0.52" fill="#111" transform="rotate(135 194.06 414.19)"/><ellipse cx="202.61" cy="403.06" rx="1.45" ry="1.02" fill="#444" transform="rotate(172 202.61 403.06)"/><ellipse cx="194.15" cy="423.55" rx="1.68" ry="1.29" fill="#111" transform="rotate(95 194.15 423.55)"/><ellipse cx="204.34" cy="405.09" rx="1.22" ry="1.20" fill="#444" transform="rotate(68 204.34 405.09)"/><ellipse cx="197.09" cy="416.85" rx="1.36" ry="1.04" fill="#444" transform="rotate(63 197.09 416.85)"/><ellipse cx="205.34" cy="414.30" rx="1.35" ry="0.81" fill="#444" transform="rotate(160 205.34 414.30)"/><ellipse cx="202.00" cy="433.89" rx="1.76" ry="0.93" fill="#000" transform="rotate(69 202.00 433.89)"/><ellipse cx="205.80" cy="407.26" rx="1.02" ry="0.80" fill="#444" transform="rotate(178 205.80 407.26)"/><ellipse cx="202.22" cy="402.24" rx="1.05" ry="0.53" fill="#000" transform="rotate(45 202.22 402.24)"/><ellipse cx="200.00" cy="403.51" rx="1.79" ry="1.15" fill="#222" transform="rotate(36 200.00 403.51)"/><ellipse cx="199.80" cy="430.15" rx="0.88" ry="0.64" fill="#444" transform="rotate(110 199.80 430.15)"/><ellipse cx="205.77" cy="424.54" rx="1.18" ry="1.06" fill="#111" transform="rotate(7 205.77 424.54)"/><ellipse cx="201.83" cy="437.59" rx="0.79" ry="0.61" fill="#111" transform="rotate(168 201.83 437.59)"/><ellipse cx="204.31" cy="412.63" rx="1.82" ry="1.14" fill="#000" transform="rotate(148 204.31 412.63)"/><circle cx="199.34" cy="413.71" r="0.35" fill="#eee"/><circle cx="192.09" cy="409.60" r="0.69" fill="#999"/><circle cx="202.13" cy="409.90" r="0.53" fill="#999"/><circle cx="200.55" cy="421.19" r="0.39" fill="#888"/><circle cx="204.95" cy="413.16" r="0.65" fill="#888"/><circle cx="191.57" cy="415.66" r="0.61" fill="#eee"/><circle cx="197.66" cy="414.57" r="0.38" fill="#888"/><circle cx="198.39" cy="409.46" r="0.46" fill="#eee"/><circle cx="190.08" cy="428.65" r="0.49" fill="#eee"/><circle cx="199.30" cy="416.91" r="0.40" fill="#999"/><circle cx="189.99" cy="412.59" r="0.63" fill="#999"/><circle cx="203.21" cy="422.80" r="0.69" fill="#888"/><circle cx="204.50" cy="424.83" r="0.63" fill="#eee"/><circle cx="204.84" cy="437.62" r="0.56" fill="#999"/><circle cx="205.88" cy="418.44" r="0.30" fill="#888"/><circle cx="195.83" cy="403.86" r="0.31" fill="#999"/><circle cx="195.28" cy="436.22" r="0.57" fill="#888"/><circle cx="204.08" cy="428.04" r="0.36" fill="#eee"/><circle cx="202.02" cy="431.42" r="0.49" fill="#eee"/><circle cx="204.99" cy="417.24" r="0.57" fill="#888"/><circle cx="202.82" cy="406.06" r="0.31" fill="#888"/><circle cx="199.59" cy="421.19" r="0.38" fill="#999"/><circle cx="202.55" cy="413.17" r="0.58" fill="#999"/><circle cx="197.69" cy="421.71" r="0.62" fill="#999"/><circle cx="195.08" cy="428.77" r="0.39" fill="#888"/><circle cx="198.97" cy="434.69" r="0.36" fill="#888"/><circle cx="202.52" cy="406.87" r="0.67" fill="#888"/><circle cx="204.87" cy="437.19" r="0.34" fill="#888"/>
<rect x="188.60" y="400.97" width="18.40" height="38.13" fill="none" stroke="#000" stroke-width="1"/>
<line x1="218.20" y1="393.92" x2="218.20" y2="400.47" stroke="#000" stroke-width="1"/>
<line x1="214.90" y1="393.92" x2="221.50" y2="393.92" stroke="#000" stroke-width="1.2"/>
<rect x="208.90" y="400.47" width="19.60" height="38.63" fill="#000"/>
<line x1="33.20" y1="302.60" x2="33.20" y2="442.60" stroke="#000" stroke-width="1.1"/>
<line x1="28.70" y1="439.10" x2="238.50" y2="439.10" stroke="#000" stroke-width="1.1"/>
<line x1="28.70" y1="439.10" x2="33.20" y2="439.10" stroke="#000" stroke-width="1"/>
<text x="30.00" y="443.10" font-size="10.2" text-anchor="end">0</text>
<line x1="28.70" y1="411.80" x2="33.20" y2="411.80" stroke="#000" stroke-width="1"/>
<text x="30.00" y="415.80" font-size="10.2" text-anchor="end">20</text>
<line x1="28.70" y1="384.50" x2="33.20" y2="384.50" stroke="#000" stroke-width="1"/>
<text x="30.00" y="388.50" font-size="10.2" text-anchor="end">40</text>
<line x1="28.70" y1="357.20" x2="33.20" y2="357.20" stroke="#000" stroke-width="1"/>
<text x="30.00" y="361.20" font-size="10.2" text-anchor="end">60</text>
<line x1="28.70" y1="329.90" x2="33.20" y2="329.90" stroke="#000" stroke-width="1"/>
<text x="30.00" y="333.90" font-size="10.2" text-anchor="end">80</text>
<line x1="28.70" y1="302.60" x2="33.20" y2="302.60" stroke="#000" stroke-width="1"/>
<text x="30.00" y="306.60" font-size="10.2" text-anchor="end">100</text>
<line x1="136.70" y1="439.10" x2="136.70" y2="442.60" stroke="#000" stroke-width="1"/>
<line x1="238.50" y1="439.10" x2="238.50" y2="442.60" stroke="#000" stroke-width="1"/>
<line x1="297.85" y1="355.63" x2="297.85" y2="363.87" stroke="#000" stroke-width="1"/>
<line x1="294.55" y1="355.63" x2="301.15" y2="355.63" stroke="#000" stroke-width="1.2"/>
<rect x="289.00" y="364.37" width="18.70" height="75.23" fill="#bbbbbb" stroke="#000" stroke-width="1"/>
<line x1="318.70" y1="392.40" x2="318.70" y2="395.42" stroke="#000" stroke-width="1"/>
<line x1="315.40" y1="392.40" x2="322.00" y2="392.40" stroke="#000" stroke-width="1.2"/>
<rect x="310.10" y="395.92" width="18.20" height="43.68" fill="url(#hatch)" stroke="#000" stroke-width="1"/>
<line x1="361.50" y1="395.97" x2="361.50" y2="400.36" stroke="#000" stroke-width="1"/>
<line x1="358.20" y1="395.97" x2="364.80" y2="395.97" stroke="#000" stroke-width="1.2"/>
<rect x="352.20" y="400.36" width="19.60" height="39.24" fill="#000"/>
<line x1="399.65" y1="368.39" x2="399.65" y2="374.70" stroke="#000" stroke-width="1"/>
<line x1="396.35" y1="368.39" x2="402.95" y2="368.39" stroke="#000" stroke-width="1.2"/>
<rect x="391.00" y="375.20" width="18.30" height="64.40" fill="#bbbbbb" stroke="#000" stroke-width="1"/>
<line x1="420.75" y1="393.23" x2="420.75" y2="396.93" stroke="#000" stroke-width="1"/>
<line x1="417.45" y1="393.23" x2="424.05" y2="393.23" stroke="#000" stroke-width="1.2"/>
<rect x="411.80" y="397.43" width="18.90" height="42.17" fill="url(#hatch)" stroke="#000" stroke-width="1"/>
<line x1="463.40" y1="408.32" x2="463.40" y2="410.51" stroke="#000" stroke-width="1"/>
<line x1="460.10" y1="408.32" x2="466.70" y2="408.32" stroke="#000" stroke-width="1.2"/>
<rect x="454.50" y="410.51" width="18.80" height="29.09" fill="#000"/>
<line x1="278.90" y1="302.40" x2="278.90" y2="443.10" stroke="#000" stroke-width="1.1"/>
<line x1="274.40" y1="439.60" x2="482.80" y2="439.60" stroke="#000" stroke-width="1.1"/>
<line x1="274.40" y1="439.60" x2="278.90" y2="439.60" stroke="#000" stroke-width="1"/>
<text x="275.80" y="443.60" font-size="10.2" text-anchor="end">0</text>
<line x1="274.40" y1="412.16" x2="278.90" y2="412.16" stroke="#000" stroke-width="1"/>
<text x="275.80" y="416.16" font-size="10.2" text-anchor="end">20</text>
<line x1="274.40" y1="384.72" x2="278.90" y2="384.72" stroke="#000" stroke-width="1"/>
<text x="275.80" y="388.72" font-size="10.2" text-anchor="end">40</text>
<line x1="274.40" y1="357.28" x2="278.90" y2="357.28" stroke="#000" stroke-width="1"/>
<text x="275.80" y="361.28" font-size="10.2" text-anchor="end">60</text>
<line x1="274.40" y1="329.84" x2="278.90" y2="329.84" stroke="#000" stroke-width="1"/>
<text x="275.80" y="333.84" font-size="10.2" text-anchor="end">80</text>
<line x1="274.40" y1="302.40" x2="278.90" y2="302.40" stroke="#000" stroke-width="1"/>
<text x="275.80" y="306.40" font-size="10.2" text-anchor="end">100</text>
<line x1="380.80" y1="439.60" x2="380.80" y2="443.10" stroke="#000" stroke-width="1"/>
<line x1="482.80" y1="439.60" x2="482.80" y2="443.10" stroke="#000" stroke-width="1"/>
<path d="M49.40,298.90L49.40,303.90M47.23,300.15L51.57,302.65M51.57,300.15L47.23,302.65" stroke="#000" stroke-width="1.05" fill="none"/>
<circle cx="49.40" cy="301.40" r="0.95" fill="#000"/>
<path d="M55.50,298.90L55.50,303.90M53.33,300.15L57.67,302.65M57.67,300.15L53.33,302.65" stroke="#000" stroke-width="1.05" fill="none"/>
<circle cx="55.50" cy="301.40" r="0.95" fill="#000"/>
<path d="M157.50,351.40L157.50,356.40M155.33,352.65L159.67,355.15M159.67,352.65L155.33,355.15" stroke="#000" stroke-width="1.05" fill="none"/>
<circle cx="157.50" cy="353.90" r="0.95" fill="#000"/>
<path d="M297.30,339.80L297.30,344.80M295.13,341.05L299.47,343.55M299.47,341.05L295.13,343.55" stroke="#000" stroke-width="1.05" fill="none"/>
<circle cx="297.30" cy="342.30" r="0.95" fill="#000"/>
<path d="M398.70,351.70L398.70,356.70M396.53,352.95L400.87,355.45M400.87,352.95L396.53,355.45" stroke="#000" stroke-width="1.05" fill="none"/>
<circle cx="398.70" cy="354.20" r="0.95" fill="#000"/>
<path d="M405.10,351.70L405.10,356.70M402.93,352.95L407.27,355.45M407.27,352.95L402.93,355.45" stroke="#000" stroke-width="1.05" fill="none"/>
<circle cx="405.10" cy="354.20" r="0.95" fill="#000"/>
<path d="M411.50,351.70L411.50,356.70M409.33,352.95L413.67,355.45M413.67,352.95L409.33,355.45" stroke="#000" stroke-width="1.05" fill="none"/>
<circle cx="411.50" cy="354.20" r="0.95" fill="#000"/>
<path d="M422.60,385.30L422.60,390.30M420.43,386.55L424.77,389.05M424.77,386.55L420.43,389.05" stroke="#000" stroke-width="1.05" fill="none"/>
<circle cx="422.60" cy="387.80" r="0.95" fill="#000"/>
<text x="335.7" y="434.7" font-size="9.9" textLength="10.9" lengthAdjust="spacingAndGlyphs">nd</text>
<text x="436.0" y="433.7" font-size="9.9" textLength="10.9" lengthAdjust="spacingAndGlyphs">nd</text>
<text x="85.00" y="458.90" font-size="11.2" text-anchor="middle" font-weight="normal" fill="#000" >CD4</text>
<text x="187.10" y="458.80" font-size="11.2" text-anchor="middle" font-weight="normal" fill="#000" >CD8</text>
<text x="331.00" y="459.60" font-size="11.2" text-anchor="middle" font-weight="normal" fill="#000" >CD4</text>
<text x="433.50" y="459.60" font-size="11.2" text-anchor="middle" font-weight="normal" fill="#000" >CD8</text>
<text transform="translate(12.0,366.5) rotate(-90)" font-size="9.4" font-weight="bold" text-anchor="middle" textLength="104" lengthAdjust="spacingAndGlyphs">Expression of Fas (MFI)</text>
<rect x="448.30" y="295.20" width="67.20" height="80.70" fill="#000"/>
<rect x="446.30" y="293.20" width="67.20" height="80.70" fill="#fff" stroke="#000" stroke-width="0.8"/>
<rect x="451.5" y="299.20" width="11.5" height="9.80" fill="#bbbbbb" stroke="#000" stroke-width="1"/>
<text x="468.00" y="307.30" font-size="11" text-anchor="start" font-weight="normal" fill="#000" >day 8</text>
<rect x="451.5" y="319.10" width="11.5" height="8.80" fill="url(#hatch)" stroke="#000" stroke-width="1"/>
<text x="468.00" y="326.70" font-size="11" text-anchor="start" font-weight="normal" fill="#000" >day 12</text>
<rect x="451.50" y="338.60" width="11.50" height="9.90" fill="#c6c6c6"/>
<ellipse cx="458.42" cy="345.46" rx="2.02" ry="1.14" fill="#000" transform="rotate(151 458.42 345.46)"/><ellipse cx="454.87" cy="340.01" rx="0.78" ry="0.63" fill="#222" transform="rotate(84 454.87 340.01)"/><ellipse cx="457.67" cy="344.13" rx="0.60" ry="0.51" fill="#111" transform="rotate(73 457.67 344.13)"/><ellipse cx="460.74" cy="342.68" rx="1.79" ry="1.11" fill="#000" transform="rotate(25 460.74 342.68)"/><ellipse cx="453.70" cy="339.61" rx="2.35" ry="1.20" fill="#111" transform="rotate(139 453.70 339.61)"/><circle cx="453.94" cy="340.78" r="0.43" fill="#eee"/><circle cx="457.64" cy="345.03" r="0.38" fill="#888"/><circle cx="454.25" cy="347.41" r="0.45" fill="#eee"/><circle cx="455.88" cy="340.78" r="0.36" fill="#eee"/>
<path d="M453,341.1l3,1.5l2,-1 M455,345.1l2.5,-1.5l3,1.5" stroke="#111" stroke-width="1.3" fill="none"/>
<rect x="451.5" y="338.60" width="11.5" height="9.90" fill="none" stroke="#000" stroke-width="1"/>
<text x="468.00" y="346.75" font-size="11" text-anchor="start" font-weight="normal" fill="#000" >day 16</text>
<rect x="451" y="358.70" width="12.5" height="10.90" fill="#000"/>
<text x="468.00" y="367.35" font-size="11" text-anchor="start" font-weight="normal" fill="#000" >control</text>
</svg></body></html>
